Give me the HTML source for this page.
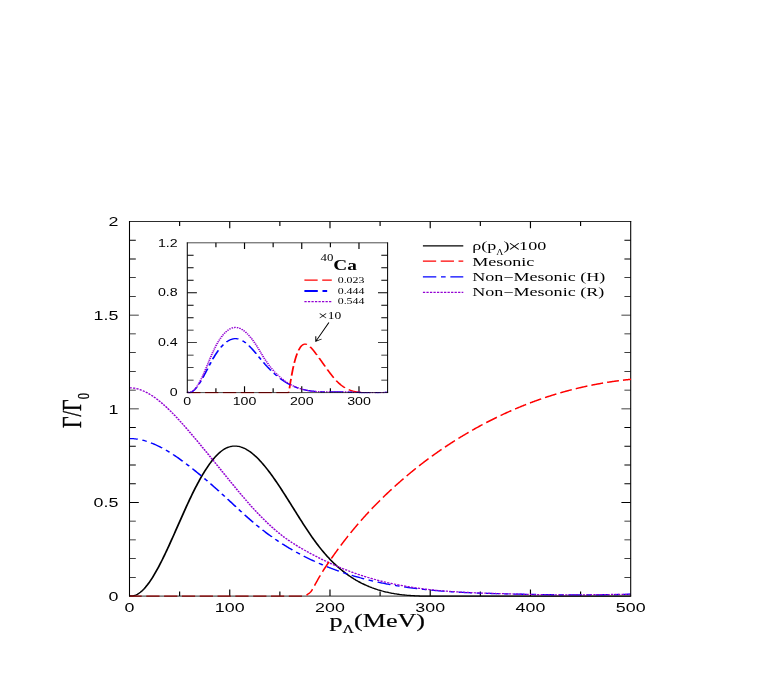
<!DOCTYPE html>
<html><head><meta charset="utf-8"><title>plot</title>
<style>html,body{margin:0;padding:0;background:#fff}svg{display:block}text{font-family:"Liberation Serif",serif;fill:#000}.s{font-family:"Liberation Sans",sans-serif}</style></head><body>
<svg width="761" height="692" viewBox="0 0 761 692">
<rect width="761" height="692" fill="#fff"/>
<defs><clipPath id="cm"><rect x="93.12" y="220.5" width="364.64" height="376.6"/></clipPath>
<clipPath id="ci"><rect x="135.36" y="241.8" width="145.87" height="151.8"/></clipPath></defs>
<g transform="scale(1.38 1)" opacity="0.999">
<path d="M93.84,577.37 h4.57 M457.03,577.37 h-4.57 M93.84,558.64 h4.57 M457.03,558.64 h-4.57 M93.84,539.91 h4.57 M457.03,539.91 h-4.57 M93.84,521.18 h4.57 M457.03,521.18 h-4.57 M93.84,502.45 h6.74 M457.03,502.45 h-6.74 M93.84,483.72 h4.57 M457.03,483.72 h-4.57 M93.84,464.99 h4.57 M457.03,464.99 h-4.57 M93.84,446.26 h4.57 M457.03,446.26 h-4.57 M93.84,427.53 h4.57 M457.03,427.53 h-4.57 M93.84,408.8 h6.74 M457.03,408.8 h-6.74 M93.84,390.07 h4.57 M457.03,390.07 h-4.57 M93.84,371.34 h4.57 M457.03,371.34 h-4.57 M93.84,352.61 h4.57 M457.03,352.61 h-4.57 M93.84,333.88 h4.57 M457.03,333.88 h-4.57 M93.84,315.15 h6.74 M457.03,315.15 h-6.74 M93.84,296.42 h4.57 M457.03,296.42 h-4.57 M93.84,277.69 h4.57 M457.03,277.69 h-4.57 M93.84,258.96 h4.57 M457.03,258.96 h-4.57 M93.84,240.23 h4.57 M457.03,240.23 h-4.57 M130.16,596.1 v-4.6 M130.16,221.5 v4.6 M166.48,596.1 v-6.7 M166.48,221.5 v6.7 M202.8,596.1 v-4.6 M202.8,221.5 v4.6 M239.12,596.1 v-6.7 M239.12,221.5 v6.7 M275.43,596.1 v-4.6 M275.43,221.5 v4.6 M311.75,596.1 v-6.7 M311.75,221.5 v6.7 M348.07,596.1 v-4.6 M348.07,221.5 v4.6 M384.39,596.1 v-6.7 M384.39,221.5 v6.7 M420.71,596.1 v-4.6 M420.71,221.5 v4.6" stroke="#000" stroke-width="0.85" fill="none"/>
<path d="M135.72,380.12 h4.57 M280.87,380.12 h-4.57 M135.72,367.63 h4.57 M280.87,367.63 h-4.57 M135.72,355.15 h4.57 M280.87,355.15 h-4.57 M135.72,342.67 h6.96 M280.87,342.67 h-6.96 M135.72,330.18 h4.57 M280.87,330.18 h-4.57 M135.72,317.7 h4.57 M280.87,317.7 h-4.57 M135.72,305.22 h4.57 M280.87,305.22 h-4.57 M135.72,292.73 h6.96 M280.87,292.73 h-6.96 M135.72,280.25 h4.57 M280.87,280.25 h-4.57 M135.72,267.77 h4.57 M280.87,267.77 h-4.57 M135.72,255.28 h4.57 M280.87,255.28 h-4.57 M156.46,392.6 v-4.4 M156.46,242.8 v4.4 M177.19,392.6 v-6.3 M177.19,242.8 v6.3 M197.93,392.6 v-4.4 M197.93,242.8 v4.4 M218.66,392.6 v-6.3 M218.66,242.8 v6.3 M239.4,392.6 v-4.4 M239.4,242.8 v4.4 M260.13,392.6 v-6.3 M260.13,242.8 v6.3" stroke="#000" stroke-width="0.85" fill="none"/>
<g clip-path="url(#cm)" fill="none" stroke-width="1.3" stroke-linejoin="round">
<path d="M93.84,595.75 L94.57,595.89 L95.29,595.93 L96.02,595.87 L96.75,595.71 L97.47,595.46 L98.2,595.12 L98.93,594.69 L99.65,594.18 L100.38,593.57 L101.1,592.89 L101.83,592.12 L102.56,591.28 L103.28,590.36 L104.01,589.36 L104.74,588.29 L105.46,587.16 L106.19,585.95 L106.92,584.68 L107.64,583.34 L108.37,581.94 L109.09,580.49 L109.82,578.97 L110.55,577.4 L111.27,575.77 L112,574.1 L112.73,572.37 L113.45,570.6 L114.18,568.79 L114.91,566.93 L115.63,565.03 L116.36,563.09 L117.08,561.11 L117.81,559.1 L118.54,557.06 L119.26,554.99 L119.99,552.89 L120.72,550.76 L121.44,548.61 L122.17,546.44 L122.9,544.25 L123.62,542.04 L124.35,539.82 L125.07,537.58 L125.8,535.33 L126.53,533.08 L127.25,530.81 L127.98,528.54 L128.71,526.27 L129.43,524 L130.16,521.73 L130.89,519.46 L131.61,517.2 L132.34,514.95 L133.06,512.71 L133.79,510.48 L134.52,508.26 L135.24,506.06 L135.97,503.88 L136.7,501.72 L137.42,499.58 L138.15,497.47 L138.88,495.38 L139.6,493.32 L140.33,491.3 L141.06,489.3 L141.78,487.34 L142.51,485.41 L143.23,483.51 L143.96,481.65 L144.69,479.83 L145.41,478.04 L146.14,476.29 L146.87,474.59 L147.59,472.92 L148.32,471.29 L149.05,469.7 L149.77,468.16 L150.5,466.66 L151.22,465.21 L151.95,463.8 L152.68,462.44 L153.4,461.13 L154.13,459.87 L154.86,458.65 L155.58,457.49 L156.31,456.38 L157.04,455.32 L157.76,454.31 L158.49,453.36 L159.21,452.47 L159.94,451.63 L160.67,450.85 L161.39,450.13 L162.12,449.46 L162.85,448.86 L163.57,448.32 L164.3,447.84 L165.03,447.41 L165.75,447.05 L166.48,446.75 L167.2,446.5 L167.93,446.31 L168.66,446.17 L169.38,446.09 L170.11,446.06 L170.84,446.09 L171.56,446.17 L172.29,446.3 L173.02,446.48 L173.74,446.71 L174.47,446.99 L175.19,447.32 L175.92,447.69 L176.65,448.11 L177.37,448.58 L178.1,449.09 L178.83,449.65 L179.55,450.25 L180.28,450.89 L181.01,451.58 L181.73,452.3 L182.46,453.07 L183.18,453.87 L183.91,454.71 L184.64,455.59 L185.36,456.51 L186.09,457.46 L186.82,458.45 L187.54,459.47 L188.27,460.53 L189,461.62 L189.72,462.73 L190.45,463.88 L191.18,465.06 L191.9,466.26 L192.63,467.5 L193.35,468.75 L194.08,470.04 L194.81,471.35 L195.53,472.68 L196.26,474.03 L196.99,475.41 L197.71,476.8 L198.44,478.22 L199.17,479.65 L199.89,481.1 L200.62,482.57 L201.34,484.05 L202.07,485.55 L202.8,487.06 L203.52,488.59 L204.25,490.12 L204.98,491.67 L205.7,493.23 L206.43,494.79 L207.16,496.37 L207.88,497.95 L208.61,499.53 L209.33,501.13 L210.06,502.72 L210.79,504.32 L211.51,505.92 L212.24,507.53 L212.97,509.13 L213.69,510.73 L214.42,512.33 L215.15,513.93 L215.87,515.52 L216.6,517.11 L217.32,518.7 L218.05,520.28 L218.78,521.85 L219.5,523.41 L220.23,524.96 L220.96,526.5 L221.68,528.03 L222.41,529.55 L223.14,531.06 L223.86,532.55 L224.59,534.03 L225.31,535.49 L226.04,536.93 L226.77,538.35 L227.49,539.76 L228.22,541.15 L228.95,542.51 L229.67,543.85 L230.4,545.17 L231.13,546.47 L231.85,547.75 L232.58,549 L233.3,550.23 L234.03,551.43 L234.76,552.62 L235.48,553.78 L236.21,554.92 L236.94,556.04 L237.66,557.14 L238.39,558.22 L239.12,559.27 L239.84,560.31 L240.57,561.33 L241.3,562.32 L242.02,563.3 L242.75,564.25 L243.47,565.19 L244.2,566.11 L244.93,567.01 L245.65,567.89 L246.38,568.75 L247.11,569.59 L247.83,570.41 L248.56,571.22 L249.29,572.01 L250.01,572.78 L250.74,573.53 L251.46,574.27 L252.19,574.99 L252.92,575.69 L253.64,576.38 L254.37,577.05 L255.1,577.7 L255.82,578.34 L256.55,578.97 L257.28,579.57 L258,580.17 L258.73,580.74 L259.45,581.31 L260.18,581.86 L260.91,582.39 L261.63,582.91 L262.36,583.42 L263.09,583.91 L263.81,584.39 L264.54,584.86 L265.27,585.31 L265.99,585.75 L266.72,586.18 L267.44,586.6 L268.17,587 L268.9,587.39 L269.62,587.78 L270.35,588.14 L271.08,588.5 L271.8,588.85 L272.53,589.19 L273.26,589.51 L273.98,589.83 L274.71,590.13 L275.43,590.43 L276.16,590.72 L276.89,590.99 L277.61,591.26 L278.34,591.52 L279.07,591.77 L279.79,592.01 L280.52,592.24 L281.25,592.46 L281.97,592.68 L282.7,592.88 L283.42,593.08 L284.15,593.27 L284.88,593.45 L285.6,593.63 L286.33,593.8 L287.06,593.96 L287.78,594.11 L288.51,594.26 L289.24,594.4 L289.96,594.53 L290.69,594.65 L291.42,594.77 L292.14,594.89 L292.87,595 L293.59,595.1 L294.32,595.19 L295.05,595.28 L295.77,595.37 L296.5,595.45 L297.23,595.52 L297.95,595.59 L298.68,595.66 L299.41,595.72 L300.13,595.77 L300.86,595.83 L301.58,595.87 L302.31,595.92 L303.04,595.96 L303.76,595.99 L304.49,596.03 L305.22,596.05 L305.94,596.08 L306.67,596.1 L307.4,596.1 L308.12,596.1 L308.85,596.1 L309.57,596.1 L310.3,596.1 L311.03,596.1 L311.75,596.1 L312.48,596.1 L313.21,596.1 L313.93,596.1 L314.66,596.1 L315.39,596.1 L316.11,596.1 L316.84,596.1 L317.56,596.1 L318.29,596.1 L319.02,596.1 L319.74,596.1 L320.47,596.1 L321.2,596.1 L321.92,596.1 L322.65,596.1 L323.38,596.1 L324.1,596.1 L324.83,596.1 L325.55,596.1 L326.28,596.1 L327.01,596.1 L327.73,596.1 L328.46,596.1 L329.19,596.1 L329.91,596.1 L330.64,596.1 L331.37,596.1 L332.09,596.1 L332.82,596.1 L333.54,596.1 L334.27,596.1 L335,596.1 L335.72,596.1 L336.45,596.1 L337.18,596.1 L337.9,596.1 L338.63,596.09 L339.36,596.09 L340.08,596.09 L340.81,596.09 L341.54,596.09 L342.26,596.09 L342.99,596.09 L343.71,596.09 L344.44,596.09 L345.17,596.09 L345.89,596.08 L346.62,596.08 L347.35,596.08 L348.07,596.08 L348.8,596.08 L349.53,596.08 L350.25,596.08 L350.98,596.08 L351.7,596.08 L352.43,596.08 L353.16,596.08 L353.88,596.08 L354.61,596.08 L355.34,596.08 L356.06,596.08 L356.79,596.08 L357.52,596.08 L358.24,596.08 L358.97,596.09 L359.69,596.09 L360.42,596.09 L361.15,596.09 L361.87,596.09 L362.6,596.09 L363.33,596.09 L364.05,596.09 L364.78,596.09 L365.51,596.09 L366.23,596.09 L366.96,596.09 L367.68,596.09 L368.41,596.09 L369.14,596.09 L369.86,596.09 L370.59,596.09 L371.32,596.09 L372.04,596.09 L372.77,596.09 L373.5,596.09 L374.22,596.09 L374.95,596.09 L375.67,596.09 L376.4,596.1 L377.13,596.1 L377.85,596.1 L378.58,596.1 L379.31,596.1 L380.03,596.1 L380.76,596.1 L381.49,596.1 L382.21,596.1 L382.94,596.1 L383.66,596.1 L384.39,596.1 L385.12,596.1 L385.84,596.1 L386.57,596.1 L387.3,596.1 L388.02,596.1 L388.75,596.1 L389.48,596.1 L390.2,596.1 L390.93,596.1 L391.66,596.1 L392.38,596.1 L393.11,596.1 L393.83,596.1 L394.56,596.1 L395.29,596.1 L396.01,596.1 L396.74,596.1 L397.47,596.1 L398.19,596.1 L398.92,596.1 L399.65,596.1 L400.37,596.1 L401.1,596.1 L401.82,596.1 L402.55,596.1 L403.28,596.1 L404,596.1 L404.73,596.1 L405.46,596.1 L406.18,596.1 L406.91,596.1 L407.64,596.1 L408.36,596.1 L409.09,596.1 L409.81,596.1 L410.54,596.1 L411.27,596.1 L411.99,596.1 L412.72,596.1 L413.45,596.1 L414.17,596.1 L414.9,596.1 L415.63,596.1 L416.35,596.1 L417.08,596.1 L417.8,596.1 L418.53,596.1 L419.26,596.1 L419.98,596.1 L420.71,596.1 L421.44,596.1 L422.16,596.1 L422.89,596.1 L423.62,596.1 L424.34,596.1 L425.07,596.1 L425.79,596.1 L426.52,596.1 L427.25,596.1 L427.97,596.1 L428.7,596.1 L429.43,596.1 L430.15,596.1 L430.88,596.1 L431.61,596.1 L432.33,596.1 L433.06,596.1 L433.78,596.1 L434.51,596.1 L435.24,596.1 L435.96,596.1 L436.69,596.1 L437.42,596.1 L438.14,596.1 L438.87,596.1 L439.6,596.1 L440.32,596.1 L441.05,596.1 L441.78,596.1 L442.5,596.1 L443.23,596.1 L443.95,596.1 L444.68,596.1 L445.41,596.1 L446.13,596.1 L446.86,596.1 L447.59,596.1 L448.31,596.1 L449.04,596.1 L449.77,596.1 L450.49,596.1 L451.22,596.1 L451.94,596.1 L452.67,596.1 L453.4,596.1 L454.12,596.1 L454.85,596.1 L455.58,596.1 L456.3,596.1 L457.03,596.1" stroke="#000"/>
<path d="M93.84,596.1 H221.32" stroke="#ff0000" stroke-dasharray="9.6 3.31" stroke-dashoffset="0.76"/>
<path d="M93.84,438.55 L94.57,438.56 L95.29,438.59 L96.02,438.64 L96.75,438.71 L97.47,438.8 L98.2,438.91 L98.93,439.04 L99.65,439.18 L100.38,439.35 L101.1,439.53 L101.83,439.74 L102.56,439.96 L103.28,440.19 L104.01,440.45 L104.74,440.72 L105.46,441.01 L106.19,441.31 L106.92,441.63 L107.64,441.97 L108.37,442.32 L109.09,442.69 L109.82,443.08 L110.55,443.47 L111.27,443.89 L112,444.32 L112.73,444.76 L113.45,445.21 L114.18,445.68 L114.91,446.17 L115.63,446.66 L116.36,447.17 L117.08,447.7 L117.81,448.23 L118.54,448.78 L119.26,449.34 L119.99,449.91 L120.72,450.49 L121.44,451.08 L122.17,451.69 L122.9,452.3 L123.62,452.93 L124.35,453.57 L125.07,454.21 L125.8,454.87 L126.53,455.53 L127.25,456.21 L127.98,456.89 L128.71,457.58 L129.43,458.28 L130.16,458.99 L130.89,459.71 L131.61,460.43 L132.34,461.17 L133.06,461.91 L133.79,462.65 L134.52,463.41 L135.24,464.17 L135.97,464.93 L136.7,465.7 L137.42,466.48 L138.15,467.27 L138.88,468.05 L139.6,468.85 L140.33,469.65 L141.06,470.45 L141.78,471.26 L142.51,472.07 L143.23,472.89 L143.96,473.71 L144.69,474.53 L145.41,475.37 L146.14,476.2 L146.87,477.04 L147.59,477.88 L148.32,478.73 L149.05,479.58 L149.77,480.44 L150.5,481.3 L151.22,482.16 L151.95,483.03 L152.68,483.9 L153.4,484.77 L154.13,485.65 L154.86,486.54 L155.58,487.42 L156.31,488.31 L157.04,489.2 L157.76,490.1 L158.49,491 L159.21,491.9 L159.94,492.81 L160.67,493.72 L161.39,494.63 L162.12,495.54 L162.85,496.46 L163.57,497.38 L164.3,498.3 L165.03,499.23 L165.75,500.16 L166.48,501.08 L167.2,502.01 L167.93,502.94 L168.66,503.87 L169.38,504.8 L170.11,505.73 L170.84,506.66 L171.56,507.59 L172.29,508.52 L173.02,509.44 L173.74,510.36 L174.47,511.28 L175.19,512.2 L175.92,513.11 L176.65,514.02 L177.37,514.93 L178.1,515.83 L178.83,516.72 L179.55,517.61 L180.28,518.5 L181.01,519.38 L181.73,520.25 L182.46,521.12 L183.18,521.98 L183.91,522.83 L184.64,523.67 L185.36,524.51 L186.09,525.34 L186.82,526.16 L187.54,526.97 L188.27,527.77 L189,528.57 L189.72,529.36 L190.45,530.14 L191.18,530.91 L191.9,531.68 L192.63,532.44 L193.35,533.19 L194.08,533.93 L194.81,534.67 L195.53,535.4 L196.26,536.12 L196.99,536.83 L197.71,537.54 L198.44,538.24 L199.17,538.93 L199.89,539.62 L200.62,540.3 L201.34,540.97 L202.07,541.63 L202.8,542.29 L203.52,542.94 L204.25,543.59 L204.98,544.23 L205.7,544.86 L206.43,545.49 L207.16,546.11 L207.88,546.72 L208.61,547.32 L209.33,547.92 L210.06,548.52 L210.79,549.11 L211.51,549.69 L212.24,550.26 L212.97,550.83 L213.69,551.4 L214.42,551.96 L215.15,552.51 L215.87,553.06 L216.6,553.6 L217.32,554.13 L218.05,554.66 L218.78,555.19 L219.5,555.71 L220.23,556.22 L220.96,556.73 L221.68,557.23 L222.41,557.73 L223.14,558.22 L223.86,558.71 L224.59,559.19 L225.31,559.67 L226.04,560.14 L226.77,560.61 L227.49,561.07 L228.22,561.53 L228.95,561.98 L229.67,562.43 L230.4,562.87 L231.13,563.31 L231.85,563.75 L232.58,564.18 L233.3,564.6 L234.03,565.02 L234.76,565.44 L235.48,565.85 L236.21,566.26 L236.94,566.67 L237.66,567.06 L238.39,567.46 L239.12,567.85 L239.84,568.24 L240.57,568.62 L241.3,569 L242.02,569.37 L242.75,569.74 L243.47,570.11 L244.2,570.47 L244.93,570.83 L245.65,571.18 L246.38,571.53 L247.11,571.88 L247.83,572.22 L248.56,572.56 L249.29,572.89 L250.01,573.22 L250.74,573.55 L251.46,573.87 L252.19,574.19 L252.92,574.51 L253.64,574.82 L254.37,575.13 L255.1,575.43 L255.82,575.73 L256.55,576.03 L257.28,576.33 L258,576.62 L258.73,576.9 L259.45,577.18 L260.18,577.46 L260.91,577.74 L261.63,578.01 L262.36,578.28 L263.09,578.55 L263.81,578.81 L264.54,579.07 L265.27,579.33 L265.99,579.58 L266.72,579.83 L267.44,580.08 L268.17,580.32 L268.9,580.56 L269.62,580.8 L270.35,581.03 L271.08,581.26 L271.8,581.49 L272.53,581.72 L273.26,581.94 L273.98,582.16 L274.71,582.38 L275.43,582.59 L276.16,582.8 L276.89,583.01 L277.61,583.21 L278.34,583.42 L279.07,583.61 L279.79,583.81 L280.52,584.01 L281.25,584.2 L281.97,584.39 L282.7,584.57 L283.42,584.76 L284.15,584.94 L284.88,585.11 L285.6,585.29 L286.33,585.46 L287.06,585.63 L287.78,585.8 L288.51,585.97 L289.24,586.13 L289.96,586.29 L290.69,586.45 L291.42,586.61 L292.14,586.76 L292.87,586.91 L293.59,587.06 L294.32,587.21 L295.05,587.35 L295.77,587.49 L296.5,587.63 L297.23,587.77 L297.95,587.91 L298.68,588.04 L299.41,588.17 L300.13,588.3 L300.86,588.42 L301.58,588.55 L302.31,588.67 L303.04,588.79 L303.76,588.91 L304.49,589.03 L305.22,589.14 L305.94,589.25 L306.67,589.37 L307.4,589.47 L308.12,589.58 L308.85,589.69 L309.57,589.79 L310.3,589.89 L311.03,589.99 L311.75,590.09 L312.48,590.18 L313.21,590.28 L313.93,590.37 L314.66,590.46 L315.39,590.55 L316.11,590.64 L316.84,590.72 L317.56,590.81 L318.29,590.89 L319.02,590.97 L319.74,591.05 L320.47,591.13 L321.2,591.2 L321.92,591.28 L322.65,591.35 L323.38,591.42 L324.1,591.49 L324.83,591.56 L325.55,591.63 L326.28,591.7 L327.01,591.76 L327.73,591.82 L328.46,591.89 L329.19,591.95 L329.91,592.01 L330.64,592.07 L331.37,592.12 L332.09,592.18 L332.82,592.23 L333.54,592.29 L334.27,592.34 L335,592.39 L335.72,592.44 L336.45,592.49 L337.18,592.54 L337.9,592.59 L338.63,592.63 L339.36,592.68 L340.08,592.72 L340.81,592.77 L341.54,592.81 L342.26,592.85 L342.99,592.89 L343.71,592.93 L344.44,592.97 L345.17,593.01 L345.89,593.05 L346.62,593.08 L347.35,593.12 L348.07,593.15 L348.8,593.19 L349.53,593.22 L350.25,593.26 L350.98,593.29 L351.7,593.32 L352.43,593.35 L353.16,593.38 L353.88,593.41 L354.61,593.44 L355.34,593.47 L356.06,593.5 L356.79,593.53 L357.52,593.56 L358.24,593.58 L358.97,593.61 L359.69,593.64 L360.42,593.66 L361.15,593.69 L361.87,593.72 L362.6,593.74 L363.33,593.77 L364.05,593.79 L364.78,593.82 L365.51,593.84 L366.23,593.86 L366.96,593.89 L367.68,593.91 L368.41,593.94 L369.14,593.96 L369.86,593.98 L370.59,594.01 L371.32,594.03 L372.04,594.05 L372.77,594.07 L373.5,594.1 L374.22,594.12 L374.95,594.14 L375.67,594.16 L376.4,594.18 L377.13,594.21 L377.85,594.23 L378.58,594.25 L379.31,594.27 L380.03,594.29 L380.76,594.31 L381.49,594.33 L382.21,594.35 L382.94,594.37 L383.66,594.39 L384.39,594.41 L385.12,594.42 L385.84,594.44 L386.57,594.46 L387.3,594.48 L388.02,594.5 L388.75,594.51 L389.48,594.53 L390.2,594.55 L390.93,594.56 L391.66,594.58 L392.38,594.59 L393.11,594.61 L393.83,594.62 L394.56,594.64 L395.29,594.65 L396.01,594.67 L396.74,594.68 L397.47,594.69 L398.19,594.71 L398.92,594.72 L399.65,594.73 L400.37,594.74 L401.1,594.75 L401.82,594.76 L402.55,594.78 L403.28,594.79 L404,594.8 L404.73,594.8 L405.46,594.81 L406.18,594.82 L406.91,594.83 L407.64,594.84 L408.36,594.85 L409.09,594.85 L409.81,594.86 L410.54,594.87 L411.27,594.87 L411.99,594.88 L412.72,594.88 L413.45,594.89 L414.17,594.89 L414.9,594.89 L415.63,594.9 L416.35,594.9 L417.08,594.9 L417.8,594.9 L418.53,594.9 L419.26,594.9 L419.98,594.9 L420.71,594.9 L421.44,594.9 L422.16,594.9 L422.89,594.9 L423.62,594.9 L424.34,594.89 L425.07,594.89 L425.79,594.89 L426.52,594.88 L427.25,594.88 L427.97,594.87 L428.7,594.87 L429.43,594.86 L430.15,594.85 L430.88,594.84 L431.61,594.84 L432.33,594.83 L433.06,594.82 L433.78,594.81 L434.51,594.8 L435.24,594.79 L435.96,594.77 L436.69,594.76 L437.42,594.75 L438.14,594.74 L438.87,594.72 L439.6,594.71 L440.32,594.69 L441.05,594.68 L441.78,594.66 L442.5,594.64 L443.23,594.62 L443.95,594.61 L444.68,594.59 L445.41,594.57 L446.13,594.55 L446.86,594.53 L447.59,594.5 L448.31,594.48 L449.04,594.46 L449.77,594.44 L450.49,594.41 L451.22,594.39 L451.94,594.36 L452.67,594.33 L453.4,594.31 L454.12,594.28 L454.85,594.25 L455.58,594.22 L456.3,594.19 L457.03,594.16" stroke="#0000ff" stroke-dasharray="9.7 3.4 3.4 3.4" stroke-dashoffset="3.6"/>
<path d="M93.84,387.78 L94.57,387.8 L95.29,387.86 L96.02,387.95 L96.75,388.07 L97.47,388.23 L98.2,388.41 L98.93,388.63 L99.65,388.88 L100.38,389.17 L101.1,389.48 L101.83,389.82 L102.56,390.19 L103.28,390.59 L104.01,391.02 L104.74,391.47 L105.46,391.95 L106.19,392.46 L106.92,392.99 L107.64,393.55 L108.37,394.14 L109.09,394.75 L109.82,395.38 L110.55,396.04 L111.27,396.71 L112,397.42 L112.73,398.14 L113.45,398.88 L114.18,399.65 L114.91,400.43 L115.63,401.24 L116.36,402.06 L117.08,402.9 L117.81,403.76 L118.54,404.64 L119.26,405.53 L119.99,406.44 L120.72,407.37 L121.44,408.31 L122.17,409.27 L122.9,410.24 L123.62,411.23 L124.35,412.23 L125.07,413.25 L125.8,414.27 L126.53,415.31 L127.25,416.36 L127.98,417.42 L128.71,418.5 L129.43,419.58 L130.16,420.67 L130.89,421.78 L131.61,422.89 L132.34,424.01 L133.06,425.14 L133.79,426.27 L134.52,427.42 L135.24,428.57 L135.97,429.72 L136.7,430.89 L137.42,432.05 L138.15,433.23 L138.88,434.4 L139.6,435.58 L140.33,436.77 L141.06,437.95 L141.78,439.15 L142.51,440.34 L143.23,441.54 L143.96,442.74 L144.69,443.94 L145.41,445.15 L146.14,446.36 L146.87,447.57 L147.59,448.78 L148.32,450 L149.05,451.21 L149.77,452.43 L150.5,453.66 L151.22,454.88 L151.95,456.1 L152.68,457.33 L153.4,458.56 L154.13,459.79 L154.86,461.02 L155.58,462.25 L156.31,463.48 L157.04,464.72 L157.76,465.95 L158.49,467.19 L159.21,468.42 L159.94,469.66 L160.67,470.89 L161.39,472.13 L162.12,473.36 L162.85,474.6 L163.57,475.83 L164.3,477.07 L165.03,478.3 L165.75,479.53 L166.48,480.76 L167.2,481.99 L167.93,483.22 L168.66,484.44 L169.38,485.66 L170.11,486.88 L170.84,488.1 L171.56,489.31 L172.29,490.52 L173.02,491.72 L173.74,492.92 L174.47,494.11 L175.19,495.3 L175.92,496.48 L176.65,497.65 L177.37,498.82 L178.1,499.98 L178.83,501.14 L179.55,502.29 L180.28,503.43 L181.01,504.56 L181.73,505.69 L182.46,506.8 L183.18,507.91 L183.91,509.01 L184.64,510.1 L185.36,511.18 L186.09,512.25 L186.82,513.31 L187.54,514.35 L188.27,515.39 L189,516.42 L189.72,517.44 L190.45,518.45 L191.18,519.44 L191.9,520.43 L192.63,521.4 L193.35,522.37 L194.08,523.32 L194.81,524.26 L195.53,525.19 L196.26,526.11 L196.99,527.02 L197.71,527.91 L198.44,528.8 L199.17,529.67 L199.89,530.53 L200.62,531.38 L201.34,532.21 L202.07,533.03 L202.8,533.84 L203.52,534.64 L204.25,535.43 L204.98,536.2 L205.7,536.96 L206.43,537.7 L207.16,538.43 L207.88,539.15 L208.61,539.86 L209.33,540.55 L210.06,541.23 L210.79,541.9 L211.51,542.56 L212.24,543.2 L212.97,543.84 L213.69,544.47 L214.42,545.09 L215.15,545.7 L215.87,546.3 L216.6,546.9 L217.32,547.49 L218.05,548.07 L218.78,548.65 L219.5,549.23 L220.23,549.8 L220.96,550.37 L221.68,550.93 L222.41,551.49 L223.14,552.04 L223.86,552.6 L224.59,553.14 L225.31,553.69 L226.04,554.22 L226.77,554.76 L227.49,555.29 L228.22,555.81 L228.95,556.34 L229.67,556.85 L230.4,557.36 L231.13,557.87 L231.85,558.38 L232.58,558.87 L233.3,559.37 L234.03,559.86 L234.76,560.34 L235.48,560.82 L236.21,561.3 L236.94,561.77 L237.66,562.24 L238.39,562.7 L239.12,563.16 L239.84,563.62 L240.57,564.07 L241.3,564.51 L242.02,564.95 L242.75,565.39 L243.47,565.82 L244.2,566.25 L244.93,566.68 L245.65,567.1 L246.38,567.51 L247.11,567.92 L247.83,568.33 L248.56,568.73 L249.29,569.13 L250.01,569.53 L250.74,569.92 L251.46,570.3 L252.19,570.69 L252.92,571.07 L253.64,571.44 L254.37,571.81 L255.1,572.18 L255.82,572.54 L256.55,572.89 L257.28,573.25 L258,573.6 L258.73,573.94 L259.45,574.29 L260.18,574.62 L260.91,574.96 L261.63,575.29 L262.36,575.61 L263.09,575.94 L263.81,576.25 L264.54,576.57 L265.27,576.88 L265.99,577.19 L266.72,577.49 L267.44,577.79 L268.17,578.08 L268.9,578.37 L269.62,578.66 L270.35,578.94 L271.08,579.22 L271.8,579.5 L272.53,579.77 L273.26,580.04 L273.98,580.31 L274.71,580.57 L275.43,580.82 L276.16,581.08 L276.89,581.33 L277.61,581.58 L278.34,581.82 L279.07,582.06 L279.79,582.29 L280.52,582.53 L281.25,582.76 L281.97,582.98 L282.7,583.2 L283.42,583.42 L284.15,583.64 L284.88,583.85 L285.6,584.06 L286.33,584.26 L287.06,584.47 L287.78,584.67 L288.51,584.86 L289.24,585.05 L289.96,585.24 L290.69,585.43 L291.42,585.61 L292.14,585.8 L292.87,585.97 L293.59,586.15 L294.32,586.32 L295.05,586.49 L295.77,586.65 L296.5,586.82 L297.23,586.98 L297.95,587.14 L298.68,587.29 L299.41,587.44 L300.13,587.59 L300.86,587.74 L301.58,587.88 L302.31,588.02 L303.04,588.16 L303.76,588.3 L304.49,588.43 L305.22,588.56 L305.94,588.69 L306.67,588.82 L307.4,588.94 L308.12,589.07 L308.85,589.19 L309.57,589.3 L310.3,589.42 L311.03,589.53 L311.75,589.64 L312.48,589.75 L313.21,589.85 L313.93,589.96 L314.66,590.06 L315.39,590.16 L316.11,590.26 L316.84,590.35 L317.56,590.45 L318.29,590.54 L319.02,590.63 L319.74,590.72 L320.47,590.8 L321.2,590.89 L321.92,590.97 L322.65,591.05 L323.38,591.13 L324.1,591.21 L324.83,591.28 L325.55,591.36 L326.28,591.43 L327.01,591.5 L327.73,591.57 L328.46,591.64 L329.19,591.7 L329.91,591.77 L330.64,591.83 L331.37,591.89 L332.09,591.95 L332.82,592.01 L333.54,592.07 L334.27,592.12 L335,592.18 L335.72,592.23 L336.45,592.29 L337.18,592.34 L337.9,592.39 L338.63,592.44 L339.36,592.49 L340.08,592.53 L340.81,592.58 L341.54,592.62 L342.26,592.67 L342.99,592.71 L343.71,592.75 L344.44,592.79 L345.17,592.83 L345.89,592.87 L346.62,592.91 L347.35,592.95 L348.07,592.99 L348.8,593.02 L349.53,593.06 L350.25,593.1 L350.98,593.13 L351.7,593.16 L352.43,593.2 L353.16,593.23 L353.88,593.26 L354.61,593.3 L355.34,593.33 L356.06,593.36 L356.79,593.39 L357.52,593.42 L358.24,593.45 L358.97,593.48 L359.69,593.51 L360.42,593.54 L361.15,593.57 L361.87,593.6 L362.6,593.63 L363.33,593.65 L364.05,593.68 L364.78,593.71 L365.51,593.74 L366.23,593.77 L366.96,593.8 L367.68,593.83 L368.41,593.85 L369.14,593.88 L369.86,593.91 L370.59,593.94 L371.32,593.97 L372.04,594 L372.77,594.02 L373.5,594.05 L374.22,594.08 L374.95,594.11 L375.67,594.14 L376.4,594.16 L377.13,594.19 L377.85,594.22 L378.58,594.25 L379.31,594.27 L380.03,594.3 L380.76,594.32 L381.49,594.35 L382.21,594.38 L382.94,594.4 L383.66,594.43 L384.39,594.45 L385.12,594.48 L385.84,594.5 L386.57,594.52 L387.3,594.55 L388.02,594.57 L388.75,594.59 L389.48,594.61 L390.2,594.63 L390.93,594.65 L391.66,594.67 L392.38,594.69 L393.11,594.71 L393.83,594.73 L394.56,594.75 L395.29,594.77 L396.01,594.78 L396.74,594.8 L397.47,594.81 L398.19,594.83 L398.92,594.84 L399.65,594.85 L400.37,594.87 L401.1,594.88 L401.82,594.89 L402.55,594.9 L403.28,594.91 L404,594.92 L404.73,594.93 L405.46,594.93 L406.18,594.94 L406.91,594.95 L407.64,594.95 L408.36,594.95 L409.09,594.96 L409.81,594.96 L410.54,594.96 L411.27,594.96 L411.99,594.96 L412.72,594.96 L413.45,594.95 L414.17,594.95 L414.9,594.95 L415.63,594.94 L416.35,594.93 L417.08,594.93 L417.8,594.92 L418.53,594.91 L419.26,594.9 L419.98,594.89 L420.71,594.88 L421.44,594.87 L422.16,594.86 L422.89,594.85 L423.62,594.84 L424.34,594.82 L425.07,594.81 L425.79,594.8 L426.52,594.78 L427.25,594.77 L427.97,594.76 L428.7,594.74 L429.43,594.73 L430.15,594.72 L430.88,594.7 L431.61,594.69 L432.33,594.67 L433.06,594.66 L433.78,594.65 L434.51,594.63 L435.24,594.62 L435.96,594.61 L436.69,594.59 L437.42,594.58 L438.14,594.57 L438.87,594.56 L439.6,594.54 L440.32,594.53 L441.05,594.52 L441.78,594.51 L442.5,594.5 L443.23,594.49 L443.95,594.48 L444.68,594.48 L445.41,594.47 L446.13,594.46 L446.86,594.46 L447.59,594.45 L448.31,594.45 L449.04,594.45 L449.77,594.44 L450.49,594.44 L451.22,594.44 L451.94,594.44 L452.67,594.45 L453.4,594.45 L454.12,594.45 L454.85,594.46 L455.58,594.47 L456.3,594.47 L457.03,594.48" stroke="#9400d3" stroke-width="1.25" stroke-dasharray="1.65 0.9"/>
</g>
<g clip-path="url(#ci)" fill="none" stroke-width="1.3" stroke-linejoin="round">
<path d="M135.72,392.6 L135.93,392.6 L136.14,392.6 L136.35,392.6 L136.55,392.6 L136.76,392.6 L136.97,392.6 L137.18,392.6 L137.38,392.6 L137.59,392.6 L137.8,392.6 L138.01,392.6 L138.21,392.6 L138.42,392.6 L138.63,392.6 L138.83,392.6 L139.04,392.6 L139.25,392.6 L139.46,392.6 L139.66,392.6 L139.87,392.6 L140.08,392.6 L140.29,392.6 L140.49,392.6 L140.7,392.6 L140.91,392.6 L141.12,392.6 L141.32,392.6 L141.53,392.6 L141.74,392.6 L141.95,392.6 L142.15,392.6 L142.36,392.6 L142.57,392.6 L142.77,392.6 L142.98,392.6 L143.19,392.6 L143.4,392.6 L143.6,392.6 L143.81,392.6 L144.02,392.6 L144.23,392.6 L144.43,392.6 L144.64,392.6 L144.85,392.6 L145.06,392.6 L145.26,392.6 L145.47,392.6 L145.68,392.6 L145.88,392.6 L146.09,392.6 L146.3,392.6 L146.51,392.6 L146.71,392.6 L146.92,392.6 L147.13,392.6 L147.34,392.6 L147.54,392.6 L147.75,392.6 L147.96,392.6 L148.17,392.6 L148.37,392.6 L148.58,392.6 L148.79,392.6 L149,392.6 L149.2,392.6 L149.41,392.6 L149.62,392.6 L149.82,392.6 L150.03,392.6 L150.24,392.6 L150.45,392.6 L150.65,392.6 L150.86,392.6 L151.07,392.6 L151.28,392.6 L151.48,392.6 L151.69,392.6 L151.9,392.6 L152.11,392.6 L152.31,392.6 L152.52,392.6 L152.73,392.6 L152.93,392.6 L153.14,392.6 L153.35,392.6 L153.56,392.6 L153.76,392.6 L153.97,392.6 L154.18,392.6 L154.39,392.6 L154.59,392.6 L154.8,392.6 L155.01,392.6 L155.22,392.6 L155.42,392.6 L155.63,392.6 L155.84,392.6 L156.04,392.6 L156.25,392.6 L156.46,392.6 L156.67,392.6 L156.87,392.6 L157.08,392.6 L157.29,392.6 L157.5,392.6 L157.7,392.6 L157.91,392.6 L158.12,392.6 L158.33,392.6 L158.53,392.6 L158.74,392.6 L158.95,392.6 L159.16,392.6 L159.36,392.6 L159.57,392.6 L159.78,392.6 L159.98,392.6 L160.19,392.6 L160.4,392.6 L160.61,392.6 L160.81,392.6 L161.02,392.6 L161.23,392.6 L161.44,392.6 L161.64,392.6 L161.85,392.6 L162.06,392.6 L162.27,392.6 L162.47,392.6 L162.68,392.6 L162.89,392.6 L163.09,392.6 L163.3,392.6 L163.51,392.6 L163.72,392.6 L163.92,392.6 L164.13,392.6 L164.34,392.6 L164.55,392.6 L164.75,392.6 L164.96,392.6 L165.17,392.6 L165.38,392.6 L165.58,392.6 L165.79,392.6 L166,392.6 L166.21,392.6 L166.41,392.6 L166.62,392.6 L166.83,392.6 L167.03,392.6 L167.24,392.6 L167.45,392.6 L167.66,392.6 L167.86,392.6 L168.07,392.6 L168.28,392.6 L168.49,392.6 L168.69,392.6 L168.9,392.6 L169.11,392.6 L169.32,392.6 L169.52,392.6 L169.73,392.6 L169.94,392.6 L170.14,392.6 L170.35,392.6 L170.56,392.6 L170.77,392.6 L170.97,392.6 L171.18,392.6 L171.39,392.6 L171.6,392.6 L171.8,392.6 L172.01,392.6 L172.22,392.6 L172.43,392.6 L172.63,392.6 L172.84,392.6 L173.05,392.6 L173.25,392.6 L173.46,392.6 L173.67,392.6 L173.88,392.6 L174.08,392.6 L174.29,392.6 L174.5,392.6 L174.71,392.6 L174.91,392.6 L175.12,392.6 L175.33,392.6 L175.54,392.6 L175.74,392.6 L175.95,392.6 L176.16,392.6 L176.37,392.6 L176.57,392.6 L176.78,392.6 L176.99,392.6 L177.19,392.6 L177.4,392.6 L177.61,392.6 L177.82,392.6 L178.02,392.6 L178.23,392.6 L178.44,392.6 L178.65,392.6 L178.85,392.6 L179.06,392.6 L179.27,392.6 L179.48,392.6 L179.68,392.6 L179.89,392.6 L180.1,392.6 L180.3,392.6 L180.51,392.6 L180.72,392.6 L180.93,392.6 L181.13,392.6 L181.34,392.6 L181.55,392.6 L181.76,392.6 L181.96,392.6 L182.17,392.6 L182.38,392.6 L182.59,392.6 L182.79,392.6 L183,392.6 L183.21,392.6 L183.42,392.6 L183.62,392.6 L183.83,392.6 L184.04,392.6 L184.24,392.6 L184.45,392.6 L184.66,392.6 L184.87,392.6 L185.07,392.6 L185.28,392.6 L185.49,392.6 L185.7,392.6 L185.9,392.6 L186.11,392.6 L186.32,392.6 L186.53,392.6 L186.73,392.6 L186.94,392.6 L187.15,392.6 L187.35,392.6 L187.56,392.6 L187.77,392.6 L187.98,392.6 L188.18,392.6 L188.39,392.6 L188.6,392.6 L188.81,392.6 L189.01,392.6 L189.22,392.6 L189.43,392.6 L189.64,392.6 L189.84,392.6 L190.05,392.6 L190.26,392.6 L190.47,392.6 L190.67,392.6 L190.88,392.6 L191.09,392.6 L191.29,392.6 L191.5,392.6 L191.71,392.6 L191.92,392.6 L192.12,392.6 L192.33,392.6 L192.54,392.6 L192.75,392.6 L192.95,392.6 L193.16,392.6 L193.37,392.6 L193.58,392.6 L193.78,392.6 L193.99,392.6 L194.2,392.6 L194.4,392.6 L194.61,392.6 L194.82,392.6 L195.03,392.6 L195.23,392.6 L195.44,392.6 L195.65,392.6 L195.86,392.6 L196.06,392.6 L196.27,392.6 L196.48,392.6 L196.69,392.6 L196.89,392.6 L197.1,392.6 L197.31,392.6 L197.51,392.6 L197.72,392.6 L197.93,392.6 L198.14,392.6 L198.34,392.6 L198.55,392.6 L198.76,392.6 L198.97,392.6 L199.17,392.6 L199.38,392.6 L199.59,392.6 L199.8,392.6 L200,392.6 L200.21,392.6 L200.42,392.6 L200.63,392.6 L200.83,392.6 L201.04,392.6 L201.25,392.6 L201.45,392.6 L201.66,392.6 L201.87,392.6 L202.08,392.6 L202.28,392.6 L202.49,392.6 L202.7,392.6 L202.91,392.6 L203.11,392.6 L203.32,392.6 L203.53,392.6 L203.74,392.6 L203.94,392.6 L204.15,392.6 L204.36,392.6 L204.56,392.6 L204.77,392.6 L204.98,392.6 L205.19,392.6 L205.39,392.6 L205.6,392.6 L205.81,392.6 L206.02,392.6 L206.22,392.6 L206.43,392.6 L206.64,392.6 L206.85,392.6 L207.05,392.6 L207.26,392.6 L207.47,392.6 L207.68,392.6 L207.88,392.6 L208.09,392.6 L208.3,392.6 L208.5,392.6 L208.71,392.6 L208.92,392.6 L209.13,391.96 L209.33,391.1 L209.54,389.93 L209.75,388.42 L209.96,386.67 L210.16,384.81 L210.37,382.93 L210.58,381.15 L210.79,379.56 L210.99,378 L211.2,376.44 L211.41,374.89 L211.61,373.36 L211.82,371.85 L212.03,370.39 L212.24,368.96 L212.44,367.59 L212.65,366.29 L212.86,365.07 L213.07,363.93 L213.27,362.81 L213.48,361.72 L213.69,360.66 L213.9,359.63 L214.1,358.64 L214.31,357.68 L214.52,356.77 L214.72,355.9 L214.93,355.07 L215.14,354.28 L215.35,353.53 L215.55,352.82 L215.76,352.14 L215.97,351.49 L216.18,350.86 L216.38,350.26 L216.59,349.69 L216.8,349.15 L217.01,348.64 L217.21,348.16 L217.42,347.71 L217.63,347.29 L217.84,346.9 L218.04,346.53 L218.25,346.2 L218.46,345.89 L218.66,345.61 L218.87,345.35 L219.08,345.12 L219.29,344.92 L219.49,344.74 L219.7,344.59 L219.91,344.45 L220.12,344.35 L220.32,344.26 L220.53,344.2 L220.74,344.16 L220.95,344.14 L221.15,344.14 L221.36,344.16 L221.57,344.2 L221.77,344.25 L221.98,344.33 L222.19,344.42 L222.4,344.53 L222.6,344.66 L222.81,344.81 L223.02,344.96 L223.23,345.14 L223.43,345.33 L223.64,345.53 L223.85,345.74 L224.06,345.97 L224.26,346.21 L224.47,346.46 L224.68,346.73 L224.89,347 L225.09,347.28 L225.3,347.57 L225.51,347.88 L225.71,348.18 L225.92,348.5 L226.13,348.83 L226.34,349.16 L226.54,349.5 L226.75,349.84 L226.96,350.19 L227.17,350.54 L227.37,350.89 L227.58,351.25 L227.79,351.62 L228,351.98 L228.2,352.35 L228.41,352.72 L228.62,353.09 L228.82,353.47 L229.03,353.84 L229.24,354.22 L229.45,354.6 L229.65,354.99 L229.86,355.37 L230.07,355.76 L230.28,356.15 L230.48,356.54 L230.69,356.93 L230.9,357.32 L231.11,357.72 L231.31,358.11 L231.52,358.51 L231.73,358.91 L231.93,359.31 L232.14,359.71 L232.35,360.11 L232.56,360.51 L232.76,360.91 L232.97,361.31 L233.18,361.72 L233.39,362.12 L233.59,362.52 L233.8,362.93 L234.01,363.33 L234.22,363.74 L234.42,364.14 L234.63,364.54 L234.84,364.95 L235.05,365.35 L235.25,365.75 L235.46,366.15 L235.67,366.55 L235.87,366.95 L236.08,367.35 L236.29,367.75 L236.5,368.15 L236.7,368.55 L236.91,368.94 L237.12,369.34 L237.33,369.73 L237.53,370.12 L237.74,370.51 L237.95,370.9 L238.16,371.28 L238.36,371.67 L238.57,372.05 L238.78,372.43 L238.98,372.81 L239.19,373.19 L239.4,373.56 L239.61,373.93 L239.81,374.3 L240.02,374.67 L240.23,375.03 L240.44,375.39 L240.64,375.75 L240.85,376.11 L241.06,376.46 L241.27,376.81 L241.47,377.15 L241.68,377.5 L241.89,377.83 L242.1,378.17 L242.3,378.5 L242.51,378.83 L242.72,379.16 L242.92,379.48 L243.13,379.8 L243.34,380.11 L243.55,380.42 L243.75,380.72 L243.96,381.02 L244.17,381.32 L244.38,381.61 L244.58,381.9 L244.79,382.18 L245,382.46 L245.21,382.73 L245.41,383 L245.62,383.26 L245.83,383.52 L246.03,383.78 L246.24,384.03 L246.45,384.27 L246.66,384.51 L246.86,384.75 L247.07,384.98 L247.28,385.2 L247.49,385.42 L247.69,385.64 L247.9,385.85 L248.11,386.06 L248.32,386.27 L248.52,386.47 L248.73,386.66 L248.94,386.85 L249.15,387.04 L249.35,387.22 L249.56,387.4 L249.77,387.58 L249.97,387.75 L250.18,387.92 L250.39,388.08 L250.6,388.24 L250.8,388.4 L251.01,388.55 L251.22,388.7 L251.43,388.84 L251.63,388.98 L251.84,389.12 L252.05,389.25 L252.26,389.38 L252.46,389.51 L252.67,389.64 L252.88,389.76 L253.08,389.87 L253.29,389.99 L253.5,390.1 L253.71,390.2 L253.91,390.31 L254.12,390.41 L254.33,390.51 L254.54,390.6 L254.74,390.7 L254.95,390.78 L255.16,390.87 L255.37,390.95 L255.57,391.04 L255.78,391.11 L255.99,391.19 L256.19,391.26 L256.4,391.33 L256.61,391.4 L256.82,391.46 L257.02,391.53 L257.23,391.59 L257.44,391.64 L257.65,391.7 L257.85,391.75 L258.06,391.8 L258.27,391.85 L258.48,391.9 L258.68,391.94 L258.89,391.98 L259.1,392.02 L259.31,392.06 L259.51,392.1 L259.72,392.13 L259.93,392.16 L260.13,392.19 L260.34,392.22 L260.55,392.25 L260.76,392.27 L260.96,392.3 L261.17,392.32 L261.38,392.34 L261.59,392.36 L261.79,392.37" stroke="#ff0000" stroke-dasharray="9.6 3.31"/>
<path d="M135.72,392.37 L135.93,392.46 L136.14,392.54 L136.35,392.6 L136.55,392.6 L136.76,392.6 L136.97,392.6 L137.18,392.6 L137.38,392.6 L137.59,392.58 L137.8,392.52 L138.01,392.44 L138.21,392.35 L138.42,392.24 L138.63,392.11 L138.83,391.98 L139.04,391.82 L139.25,391.65 L139.46,391.47 L139.66,391.27 L139.87,391.06 L140.08,390.84 L140.29,390.6 L140.49,390.35 L140.7,390.09 L140.91,389.82 L141.12,389.53 L141.32,389.23 L141.53,388.93 L141.74,388.6 L141.95,388.27 L142.15,387.93 L142.36,387.58 L142.57,387.22 L142.77,386.84 L142.98,386.46 L143.19,386.07 L143.4,385.67 L143.6,385.26 L143.81,384.84 L144.02,384.42 L144.23,383.98 L144.43,383.54 L144.64,383.09 L144.85,382.63 L145.06,382.17 L145.26,381.7 L145.47,381.23 L145.68,380.74 L145.88,380.26 L146.09,379.76 L146.3,379.26 L146.51,378.76 L146.71,378.25 L146.92,377.74 L147.13,377.22 L147.34,376.7 L147.54,376.18 L147.75,375.65 L147.96,375.12 L148.17,374.58 L148.37,374.05 L148.58,373.51 L148.79,372.97 L149,372.42 L149.2,371.88 L149.41,371.34 L149.62,370.79 L149.82,370.24 L150.03,369.7 L150.24,369.15 L150.45,368.6 L150.65,368.05 L150.86,367.51 L151.07,366.96 L151.28,366.42 L151.48,365.88 L151.69,365.34 L151.9,364.8 L152.11,364.26 L152.31,363.73 L152.52,363.2 L152.73,362.67 L152.93,362.14 L153.14,361.62 L153.35,361.11 L153.56,360.59 L153.76,360.09 L153.97,359.58 L154.18,359.08 L154.39,358.59 L154.59,358.1 L154.8,357.62 L155.01,357.15 L155.22,356.67 L155.42,356.21 L155.63,355.75 L155.84,355.3 L156.04,354.85 L156.25,354.4 L156.46,353.97 L156.67,353.54 L156.87,353.11 L157.08,352.69 L157.29,352.28 L157.5,351.87 L157.7,351.47 L157.91,351.07 L158.12,350.68 L158.33,350.3 L158.53,349.92 L158.74,349.55 L158.95,349.18 L159.16,348.82 L159.36,348.46 L159.57,348.11 L159.78,347.77 L159.98,347.43 L160.19,347.1 L160.4,346.78 L160.61,346.46 L160.81,346.15 L161.02,345.84 L161.23,345.54 L161.44,345.25 L161.64,344.96 L161.85,344.68 L162.06,344.4 L162.27,344.13 L162.47,343.87 L162.68,343.61 L162.89,343.36 L163.09,343.11 L163.3,342.88 L163.51,342.65 L163.72,342.42 L163.92,342.2 L164.13,341.99 L164.34,341.78 L164.55,341.58 L164.75,341.39 L164.96,341.2 L165.17,341.02 L165.38,340.85 L165.58,340.68 L165.79,340.52 L166,340.36 L166.21,340.22 L166.41,340.08 L166.62,339.94 L166.83,339.81 L167.03,339.69 L167.24,339.58 L167.45,339.47 L167.66,339.37 L167.86,339.27 L168.07,339.19 L168.28,339.1 L168.49,339.03 L168.69,338.96 L168.9,338.9 L169.11,338.85 L169.32,338.8 L169.52,338.76 L169.73,338.73 L169.94,338.7 L170.14,338.68 L170.35,338.67 L170.56,338.66 L170.77,338.67 L170.97,338.67 L171.18,338.69 L171.39,338.71 L171.6,338.74 L171.8,338.78 L172.01,338.82 L172.22,338.87 L172.43,338.93 L172.63,338.99 L172.84,339.07 L173.05,339.14 L173.25,339.23 L173.46,339.32 L173.67,339.42 L173.88,339.52 L174.08,339.64 L174.29,339.75 L174.5,339.88 L174.71,340.01 L174.91,340.14 L175.12,340.29 L175.33,340.43 L175.54,340.59 L175.74,340.75 L175.95,340.91 L176.16,341.08 L176.37,341.26 L176.57,341.44 L176.78,341.63 L176.99,341.83 L177.19,342.03 L177.4,342.23 L177.61,342.44 L177.82,342.65 L178.02,342.87 L178.23,343.1 L178.44,343.33 L178.65,343.56 L178.85,343.8 L179.06,344.04 L179.27,344.29 L179.48,344.54 L179.68,344.8 L179.89,345.06 L180.1,345.33 L180.3,345.6 L180.51,345.87 L180.72,346.15 L180.93,346.43 L181.13,346.72 L181.34,347 L181.55,347.3 L181.76,347.6 L181.96,347.9 L182.17,348.2 L182.38,348.51 L182.59,348.82 L182.79,349.13 L183,349.45 L183.21,349.77 L183.42,350.09 L183.62,350.41 L183.83,350.74 L184.04,351.07 L184.24,351.4 L184.45,351.73 L184.66,352.07 L184.87,352.4 L185.07,352.74 L185.28,353.08 L185.49,353.42 L185.7,353.76 L185.9,354.11 L186.11,354.45 L186.32,354.8 L186.53,355.14 L186.73,355.49 L186.94,355.84 L187.15,356.18 L187.35,356.53 L187.56,356.88 L187.77,357.23 L187.98,357.58 L188.18,357.92 L188.39,358.27 L188.6,358.62 L188.81,358.96 L189.01,359.31 L189.22,359.65 L189.43,360 L189.64,360.34 L189.84,360.68 L190.05,361.02 L190.26,361.36 L190.47,361.69 L190.67,362.03 L190.88,362.36 L191.09,362.69 L191.29,363.02 L191.5,363.35 L191.71,363.67 L191.92,363.99 L192.12,364.32 L192.33,364.63 L192.54,364.95 L192.75,365.27 L192.95,365.58 L193.16,365.89 L193.37,366.2 L193.58,366.51 L193.78,366.82 L193.99,367.12 L194.2,367.42 L194.4,367.72 L194.61,368.02 L194.82,368.32 L195.03,368.61 L195.23,368.9 L195.44,369.19 L195.65,369.48 L195.86,369.77 L196.06,370.05 L196.27,370.34 L196.48,370.62 L196.69,370.9 L196.89,371.17 L197.1,371.45 L197.31,371.72 L197.51,371.99 L197.72,372.26 L197.93,372.53 L198.14,372.79 L198.34,373.05 L198.55,373.31 L198.76,373.57 L198.97,373.83 L199.17,374.09 L199.38,374.34 L199.59,374.59 L199.8,374.84 L200,375.09 L200.21,375.33 L200.42,375.57 L200.63,375.81 L200.83,376.05 L201.04,376.29 L201.25,376.52 L201.45,376.76 L201.66,376.99 L201.87,377.22 L202.08,377.44 L202.28,377.67 L202.49,377.89 L202.7,378.11 L202.91,378.33 L203.11,378.55 L203.32,378.76 L203.53,378.98 L203.74,379.19 L203.94,379.4 L204.15,379.6 L204.36,379.81 L204.56,380.01 L204.77,380.21 L204.98,380.41 L205.19,380.6 L205.39,380.8 L205.6,380.99 L205.81,381.18 L206.02,381.37 L206.22,381.55 L206.43,381.74 L206.64,381.92 L206.85,382.1 L207.05,382.28 L207.26,382.45 L207.47,382.63 L207.68,382.8 L207.88,382.97 L208.09,383.13 L208.3,383.3 L208.5,383.46 L208.71,383.62 L208.92,383.78 L209.13,383.94 L209.33,384.09 L209.54,384.25 L209.75,384.4 L209.96,384.55 L210.16,384.69 L210.37,384.84 L210.58,384.98 L210.79,385.12 L210.99,385.26 L211.2,385.4 L211.41,385.53 L211.61,385.67 L211.82,385.8 L212.03,385.93 L212.24,386.06 L212.44,386.18 L212.65,386.31 L212.86,386.43 L213.07,386.55 L213.27,386.67 L213.48,386.78 L213.69,386.9 L213.9,387.01 L214.1,387.12 L214.31,387.23 L214.52,387.34 L214.72,387.45 L214.93,387.55 L215.14,387.66 L215.35,387.76 L215.55,387.86 L215.76,387.96 L215.97,388.05 L216.18,388.15 L216.38,388.24 L216.59,388.33 L216.8,388.42 L217.01,388.51 L217.21,388.6 L217.42,388.68 L217.63,388.77 L217.84,388.85 L218.04,388.93 L218.25,389.01 L218.46,389.09 L218.66,389.17 L218.87,389.24 L219.08,389.32 L219.29,389.39 L219.49,389.46 L219.7,389.53 L219.91,389.6 L220.12,389.67 L220.32,389.73 L220.53,389.8 L220.74,389.86 L220.95,389.92 L221.15,389.98 L221.36,390.04 L221.57,390.1 L221.77,390.16 L221.98,390.21 L222.19,390.27 L222.4,390.32 L222.6,390.37 L222.81,390.42 L223.02,390.47 L223.23,390.52 L223.43,390.57 L223.64,390.62 L223.85,390.66 L224.06,390.71 L224.26,390.75 L224.47,390.79 L224.68,390.83 L224.89,390.87 L225.09,390.91 L225.3,390.95 L225.51,390.99 L225.71,391.02 L225.92,391.06 L226.13,391.09 L226.34,391.12 L226.54,391.16 L226.75,391.19 L226.96,391.22 L227.17,391.25 L227.37,391.28 L227.58,391.3 L227.79,391.33 L228,391.36 L228.2,391.38 L228.41,391.41 L228.62,391.43 L228.82,391.45 L229.03,391.47 L229.24,391.5 L229.45,391.52 L229.65,391.54 L229.86,391.56 L230.07,391.57 L230.28,391.59 L230.48,391.61 L230.69,391.62 L230.9,391.64 L231.11,391.66 L231.31,391.67 L231.52,391.68 L231.73,391.7 L231.93,391.71 L232.14,391.72 L232.35,391.73 L232.56,391.74 L232.76,391.75 L232.97,391.76 L233.18,391.77 L233.39,391.78 L233.59,391.79 L233.8,391.8 L234.01,391.81 L234.22,391.81 L234.42,391.82 L234.63,391.83 L234.84,391.83 L235.05,391.84 L235.25,391.84 L235.46,391.85 L235.67,391.85 L235.87,391.86 L236.08,391.86 L236.29,391.86 L236.5,391.87 L236.7,391.87 L236.91,391.87 L237.12,391.87 L237.33,391.88 L237.53,391.88 L237.74,391.88 L237.95,391.88 L238.16,391.88 L238.36,391.88 L238.57,391.89 L238.78,391.89 L238.98,391.89 L239.19,391.89 L239.4,391.89 L239.61,391.89 L239.81,391.89 L240.02,391.89 L240.23,391.89 L240.44,391.89 L240.64,391.89 L240.85,391.89 L241.06,391.89 L241.27,391.89 L241.47,391.89 L241.68,391.89 L241.89,391.89 L242.1,391.89 L242.3,391.89 L242.51,391.89 L242.72,391.89 L242.92,391.89 L243.13,391.9 L243.34,391.9 L243.55,391.9 L243.75,391.9 L243.96,391.9 L244.17,391.9 L244.38,391.9 L244.58,391.91 L244.79,391.91 L245,391.91 L245.21,391.92 L245.41,391.92 L245.62,391.92 L245.83,391.93 L246.03,391.93 L246.24,391.93 L246.45,391.94 L246.66,391.94 L246.86,391.95 L247.07,391.95 L247.28,391.96 L247.49,391.96 L247.69,391.97 L247.9,391.97 L248.11,391.98 L248.32,391.99 L248.52,391.99 L248.73,392 L248.94,392.01 L249.15,392.01 L249.35,392.02 L249.56,392.03 L249.77,392.03 L249.97,392.04 L250.18,392.05 L250.39,392.05 L250.6,392.06 L250.8,392.07 L251.01,392.08 L251.22,392.09 L251.43,392.09 L251.63,392.1 L251.84,392.11 L252.05,392.12 L252.26,392.13 L252.46,392.14 L252.67,392.15 L252.88,392.15 L253.08,392.16 L253.29,392.17 L253.5,392.18 L253.71,392.19 L253.91,392.2 L254.12,392.21 L254.33,392.22 L254.54,392.23 L254.74,392.24 L254.95,392.25 L255.16,392.26 L255.37,392.26 L255.57,392.27 L255.78,392.28 L255.99,392.29 L256.19,392.3 L256.4,392.31 L256.61,392.32 L256.82,392.33 L257.02,392.34 L257.23,392.35 L257.44,392.36 L257.65,392.37 L257.85,392.38 L258.06,392.39 L258.27,392.4 L258.48,392.41 L258.68,392.42 L258.89,392.43 L259.1,392.43 L259.31,392.44 L259.51,392.45 L259.72,392.46 L259.93,392.47 L260.13,392.48 L260.34,392.49 L260.55,392.5 L260.76,392.51 L260.96,392.51 L261.17,392.52 L261.38,392.53 L261.59,392.54 L261.79,392.55 L262,392.56 L262.21,392.56 L262.42,392.57 L262.62,392.58 L262.83,392.59 L263.04,392.6 L263.24,392.6 L263.45,392.6 L263.66,392.6 L263.87,392.6 L264.07,392.6 L264.28,392.6 L264.49,392.6 L264.7,392.6 L264.9,392.6 L265.11,392.6 L265.32,392.6 L265.53,392.6 L265.73,392.6 L265.94,392.6 L266.15,392.6 L266.36,392.6 L266.56,392.6 L266.77,392.6 L266.98,392.6 L267.18,392.6 L267.39,392.6 L267.6,392.6 L267.81,392.6 L268.01,392.6 L268.22,392.6 L268.43,392.6 L268.64,392.6 L268.84,392.6 L269.05,392.6 L269.26,392.6 L269.47,392.6 L269.67,392.6 L269.88,392.6 L270.09,392.6 L270.29,392.6 L270.5,392.6 L270.71,392.6 L270.92,392.6 L271.12,392.6 L271.33,392.6 L271.54,392.6 L271.75,392.6 L271.95,392.6 L272.16,392.6 L272.37,392.6 L272.58,392.6 L272.78,392.6 L272.99,392.6 L273.2,392.6 L273.4,392.6 L273.61,392.6 L273.82,392.6 L274.03,392.6 L274.23,392.6 L274.44,392.6 L274.65,392.6 L274.86,392.6 L275.06,392.6 L275.27,392.6 L275.48,392.6 L275.69,392.6 L275.89,392.6 L276.1,392.6 L276.31,392.6 L276.52,392.6 L276.72,392.6 L276.93,392.59 L277.14,392.58 L277.34,392.57 L277.55,392.56 L277.76,392.55 L277.97,392.53 L278.17,392.52 L278.38,392.51 L278.59,392.49 L278.8,392.48 L279,392.46 L279.21,392.45 L279.42,392.43 L279.63,392.42 L279.83,392.4 L280.04,392.38 L280.25,392.36 L280.45,392.35 L280.66,392.33 L280.87,392.31" stroke="#0000ff" stroke-dasharray="9.7 3.4 3.4 3.4"/>
<path d="M135.72,391.98 L135.93,392.07 L136.14,392.14 L136.35,392.2 L136.55,392.24 L136.76,392.26 L136.97,392.27 L137.18,392.26 L137.38,392.23 L137.59,392.19 L137.8,392.13 L138.01,392.06 L138.21,391.97 L138.42,391.87 L138.63,391.75 L138.83,391.62 L139.04,391.47 L139.25,391.3 L139.46,391.12 L139.66,390.93 L139.87,390.72 L140.08,390.5 L140.29,390.27 L140.49,390.01 L140.7,389.75 L140.91,389.47 L141.12,389.18 L141.32,388.87 L141.53,388.55 L141.74,388.22 L141.95,387.87 L142.15,387.51 L142.36,387.14 L142.57,386.75 L142.77,386.35 L142.98,385.94 L143.19,385.51 L143.4,385.08 L143.6,384.63 L143.81,384.16 L144.02,383.69 L144.23,383.2 L144.43,382.7 L144.64,382.19 L144.85,381.67 L145.06,381.13 L145.26,380.59 L145.47,380.03 L145.68,379.46 L145.88,378.88 L146.09,378.3 L146.3,377.7 L146.51,377.09 L146.71,376.48 L146.92,375.85 L147.13,375.22 L147.34,374.58 L147.54,373.94 L147.75,373.29 L147.96,372.63 L148.17,371.97 L148.37,371.3 L148.58,370.63 L148.79,369.95 L149,369.27 L149.2,368.59 L149.41,367.9 L149.62,367.21 L149.82,366.52 L150.03,365.83 L150.24,365.13 L150.45,364.44 L150.65,363.75 L150.86,363.05 L151.07,362.36 L151.28,361.66 L151.48,360.97 L151.69,360.28 L151.9,359.6 L152.11,358.91 L152.31,358.23 L152.52,357.55 L152.73,356.88 L152.93,356.21 L153.14,355.55 L153.35,354.89 L153.56,354.24 L153.76,353.59 L153.97,352.95 L154.18,352.32 L154.39,351.69 L154.59,351.08 L154.8,350.47 L155.01,349.87 L155.22,349.27 L155.42,348.69 L155.63,348.11 L155.84,347.54 L156.04,346.98 L156.25,346.43 L156.46,345.88 L156.67,345.35 L156.87,344.82 L157.08,344.3 L157.29,343.78 L157.5,343.28 L157.7,342.78 L157.91,342.29 L158.12,341.81 L158.33,341.34 L158.53,340.87 L158.74,340.42 L158.95,339.97 L159.16,339.52 L159.36,339.09 L159.57,338.67 L159.78,338.25 L159.98,337.84 L160.19,337.44 L160.4,337.04 L160.61,336.66 L160.81,336.28 L161.02,335.91 L161.23,335.55 L161.44,335.2 L161.64,334.85 L161.85,334.51 L162.06,334.18 L162.27,333.86 L162.47,333.55 L162.68,333.24 L162.89,332.94 L163.09,332.65 L163.3,332.37 L163.51,332.09 L163.72,331.83 L163.92,331.57 L164.13,331.32 L164.34,331.08 L164.55,330.84 L164.75,330.61 L164.96,330.4 L165.17,330.18 L165.38,329.98 L165.58,329.79 L165.79,329.6 L166,329.42 L166.21,329.25 L166.41,329.08 L166.62,328.93 L166.83,328.78 L167.03,328.64 L167.24,328.51 L167.45,328.38 L167.66,328.27 L167.86,328.16 L168.07,328.06 L168.28,327.97 L168.49,327.88 L168.69,327.8 L168.9,327.73 L169.11,327.67 L169.32,327.62 L169.52,327.57 L169.73,327.54 L169.94,327.51 L170.14,327.49 L170.35,327.47 L170.56,327.47 L170.77,327.47 L170.97,327.48 L171.18,327.49 L171.39,327.52 L171.6,327.55 L171.8,327.59 L172.01,327.64 L172.22,327.7 L172.43,327.76 L172.63,327.84 L172.84,327.92 L173.05,328 L173.25,328.1 L173.46,328.2 L173.67,328.31 L173.88,328.43 L174.08,328.55 L174.29,328.68 L174.5,328.82 L174.71,328.97 L174.91,329.12 L175.12,329.28 L175.33,329.45 L175.54,329.62 L175.74,329.8 L175.95,329.99 L176.16,330.18 L176.37,330.38 L176.57,330.59 L176.78,330.8 L176.99,331.02 L177.19,331.25 L177.4,331.48 L177.61,331.72 L177.82,331.96 L178.02,332.21 L178.23,332.47 L178.44,332.73 L178.65,333 L178.85,333.27 L179.06,333.55 L179.27,333.84 L179.48,334.13 L179.68,334.42 L179.89,334.73 L180.1,335.03 L180.3,335.35 L180.51,335.66 L180.72,335.99 L180.93,336.31 L181.13,336.65 L181.34,336.99 L181.55,337.33 L181.76,337.68 L181.96,338.03 L182.17,338.39 L182.38,338.75 L182.59,339.12 L182.79,339.49 L183,339.87 L183.21,340.25 L183.42,340.64 L183.62,341.03 L183.83,341.43 L184.04,341.83 L184.24,342.23 L184.45,342.64 L184.66,343.06 L184.87,343.48 L185.07,343.9 L185.28,344.33 L185.49,344.77 L185.7,345.21 L185.9,345.65 L186.11,346.1 L186.32,346.55 L186.53,347 L186.73,347.47 L186.94,347.93 L187.15,348.4 L187.35,348.87 L187.56,349.35 L187.77,349.82 L187.98,350.3 L188.18,350.78 L188.39,351.26 L188.6,351.75 L188.81,352.23 L189.01,352.71 L189.22,353.19 L189.43,353.67 L189.64,354.15 L189.84,354.63 L190.05,355.1 L190.26,355.57 L190.47,356.04 L190.67,356.5 L190.88,356.96 L191.09,357.42 L191.29,357.87 L191.5,358.31 L191.71,358.76 L191.92,359.19 L192.12,359.63 L192.33,360.06 L192.54,360.49 L192.75,360.91 L192.95,361.33 L193.16,361.74 L193.37,362.15 L193.58,362.56 L193.78,362.96 L193.99,363.36 L194.2,363.75 L194.4,364.15 L194.61,364.53 L194.82,364.92 L195.03,365.29 L195.23,365.67 L195.44,366.04 L195.65,366.41 L195.86,366.78 L196.06,367.14 L196.27,367.49 L196.48,367.85 L196.69,368.2 L196.89,368.54 L197.1,368.89 L197.31,369.22 L197.51,369.56 L197.72,369.89 L197.93,370.22 L198.14,370.55 L198.34,370.87 L198.55,371.19 L198.76,371.5 L198.97,371.81 L199.17,372.12 L199.38,372.43 L199.59,372.73 L199.8,373.03 L200,373.32 L200.21,373.61 L200.42,373.9 L200.63,374.19 L200.83,374.47 L201.04,374.75 L201.25,375.02 L201.45,375.3 L201.66,375.57 L201.87,375.83 L202.08,376.1 L202.28,376.36 L202.49,376.61 L202.7,376.87 L202.91,377.12 L203.11,377.37 L203.32,377.61 L203.53,377.86 L203.74,378.1 L203.94,378.33 L204.15,378.57 L204.36,378.8 L204.56,379.03 L204.77,379.26 L204.98,379.48 L205.19,379.7 L205.39,379.92 L205.6,380.13 L205.81,380.34 L206.02,380.55 L206.22,380.76 L206.43,380.97 L206.64,381.17 L206.85,381.37 L207.05,381.56 L207.26,381.76 L207.47,381.95 L207.68,382.14 L207.88,382.33 L208.09,382.51 L208.3,382.69 L208.5,382.87 L208.71,383.05 L208.92,383.23 L209.13,383.4 L209.33,383.57 L209.54,383.74 L209.75,383.91 L209.96,384.07 L210.16,384.23 L210.37,384.39 L210.58,384.55 L210.79,384.7 L210.99,384.85 L211.2,385.01 L211.41,385.15 L211.61,385.3 L211.82,385.44 L212.03,385.59 L212.24,385.73 L212.44,385.86 L212.65,386 L212.86,386.13 L213.07,386.27 L213.27,386.39 L213.48,386.52 L213.69,386.65 L213.9,386.77 L214.1,386.89 L214.31,387.01 L214.52,387.13 L214.72,387.25 L214.93,387.36 L215.14,387.47 L215.35,387.58 L215.55,387.69 L215.76,387.8 L215.97,387.9 L216.18,388.01 L216.38,388.11 L216.59,388.21 L216.8,388.31 L217.01,388.4 L217.21,388.5 L217.42,388.59 L217.63,388.68 L217.84,388.77 L218.04,388.86 L218.25,388.94 L218.46,389.03 L218.66,389.11 L218.87,389.19 L219.08,389.27 L219.29,389.35 L219.49,389.43 L219.7,389.5 L219.91,389.57 L220.12,389.65 L220.32,389.72 L220.53,389.78 L220.74,389.85 L220.95,389.92 L221.15,389.98 L221.36,390.05 L221.57,390.11 L221.77,390.17 L221.98,390.23 L222.19,390.28 L222.4,390.34 L222.6,390.39 L222.81,390.45 L223.02,390.5 L223.23,390.55 L223.43,390.6 L223.64,390.65 L223.85,390.7 L224.06,390.74 L224.26,390.79 L224.47,390.83 L224.68,390.87 L224.89,390.92 L225.09,390.96 L225.3,391 L225.51,391.03 L225.71,391.07 L225.92,391.11 L226.13,391.14 L226.34,391.17 L226.54,391.21 L226.75,391.24 L226.96,391.27 L227.17,391.3 L227.37,391.33 L227.58,391.36 L227.79,391.38 L228,391.41 L228.2,391.43 L228.41,391.46 L228.62,391.48 L228.82,391.5 L229.03,391.52 L229.24,391.54 L229.45,391.56 L229.65,391.58 L229.86,391.6 L230.07,391.62 L230.28,391.64 L230.48,391.65 L230.69,391.67 L230.9,391.68 L231.11,391.7 L231.31,391.71 L231.52,391.72 L231.73,391.73 L231.93,391.74 L232.14,391.75 L232.35,391.76 L232.56,391.77 L232.76,391.78 L232.97,391.79 L233.18,391.8 L233.39,391.81 L233.59,391.81 L233.8,391.82 L234.01,391.82 L234.22,391.83 L234.42,391.83 L234.63,391.84 L234.84,391.84 L235.05,391.85 L235.25,391.85 L235.46,391.85 L235.67,391.85 L235.87,391.86 L236.08,391.86 L236.29,391.86 L236.5,391.86 L236.7,391.86 L236.91,391.86 L237.12,391.86 L237.33,391.86 L237.53,391.86 L237.74,391.86 L237.95,391.86 L238.16,391.86 L238.36,391.86 L238.57,391.86 L238.78,391.86 L238.98,391.86 L239.19,391.86 L239.4,391.85 L239.61,391.85 L239.81,391.85 L240.02,391.85 L240.23,391.85 L240.44,391.85 L240.64,391.85 L240.85,391.84 L241.06,391.84 L241.27,391.84 L241.47,391.84 L241.68,391.84 L241.89,391.84 L242.1,391.84 L242.3,391.84 L242.51,391.83 L242.72,391.83 L242.92,391.83 L243.13,391.83 L243.34,391.83 L243.55,391.83 L243.75,391.83 L243.96,391.83 L244.17,391.84 L244.38,391.84 L244.58,391.84 L244.79,391.84 L245,391.84 L245.21,391.84 L245.41,391.85 L245.62,391.85 L245.83,391.85 L246.03,391.86 L246.24,391.86 L246.45,391.87 L246.66,391.87 L246.86,391.88 L247.07,391.88 L247.28,391.89 L247.49,391.89 L247.69,391.9 L247.9,391.9 L248.11,391.91 L248.32,391.92 L248.52,391.92 L248.73,391.93 L248.94,391.94 L249.15,391.94 L249.35,391.95 L249.56,391.96 L249.77,391.97 L249.97,391.97 L250.18,391.98 L250.39,391.99 L250.6,392 L250.8,392.01 L251.01,392.02 L251.22,392.03 L251.43,392.04 L251.63,392.05 L251.84,392.05 L252.05,392.06 L252.26,392.07 L252.46,392.08 L252.67,392.09 L252.88,392.1 L253.08,392.11 L253.29,392.12 L253.5,392.14 L253.71,392.15 L253.91,392.16 L254.12,392.17 L254.33,392.18 L254.54,392.19 L254.74,392.2 L254.95,392.21 L255.16,392.22 L255.37,392.23 L255.57,392.24 L255.78,392.25 L255.99,392.27 L256.19,392.28 L256.4,392.29 L256.61,392.3 L256.82,392.31 L257.02,392.32 L257.23,392.33 L257.44,392.34 L257.65,392.35 L257.85,392.37 L258.06,392.38 L258.27,392.39 L258.48,392.4 L258.68,392.41 L258.89,392.42 L259.1,392.43 L259.31,392.44 L259.51,392.45 L259.72,392.46 L259.93,392.47 L260.13,392.49 L260.34,392.5 L260.55,392.51 L260.76,392.52 L260.96,392.53 L261.17,392.54 L261.38,392.55 L261.59,392.56 L261.79,392.57 L262,392.58 L262.21,392.59 L262.42,392.59 L262.62,392.6 L262.83,392.6 L263.04,392.6 L263.24,392.6 L263.45,392.6 L263.66,392.6 L263.87,392.6 L264.07,392.6 L264.28,392.6 L264.49,392.6 L264.7,392.6 L264.9,392.6 L265.11,392.6 L265.32,392.6 L265.53,392.6 L265.73,392.6 L265.94,392.6 L266.15,392.6 L266.36,392.6 L266.56,392.6 L266.77,392.6 L266.98,392.6 L267.18,392.6 L267.39,392.6 L267.6,392.6 L267.81,392.6 L268.01,392.6 L268.22,392.6 L268.43,392.6 L268.64,392.6 L268.84,392.6 L269.05,392.6 L269.26,392.6 L269.47,392.6 L269.67,392.6 L269.88,392.6 L270.09,392.6 L270.29,392.6 L270.5,392.6 L270.71,392.6 L270.92,392.6 L271.12,392.6 L271.33,392.6 L271.54,392.6 L271.75,392.6 L271.95,392.6 L272.16,392.6 L272.37,392.6 L272.58,392.6 L272.78,392.6 L272.99,392.6 L273.2,392.6 L273.4,392.6 L273.61,392.6 L273.82,392.6 L274.03,392.6 L274.23,392.6 L274.44,392.6 L274.65,392.6 L274.86,392.6 L275.06,392.6 L275.27,392.6 L275.48,392.6 L275.69,392.6 L275.89,392.6 L276.1,392.6 L276.31,392.6 L276.52,392.6 L276.72,392.6 L276.93,392.59 L277.14,392.58 L277.34,392.56 L277.55,392.55 L277.76,392.53 L277.97,392.52 L278.17,392.5 L278.38,392.48 L278.59,392.46 L278.8,392.45 L279,392.43 L279.21,392.41 L279.42,392.39 L279.63,392.37 L279.83,392.34 L280.04,392.32 L280.25,392.3 L280.45,392.28 L280.66,392.25 L280.87,392.23" stroke="#9400d3" stroke-width="1.3" stroke-dasharray="1.15 0.8"/>
</g>
<path d="M93.84,221.5 H457.03 M93.84,596.1 H457.03" fill="none" stroke="#000" stroke-width="0.7" stroke-linecap="square"/>
<path d="M93.84,221.5 V596.1 M457.03,221.5 V596.1" fill="none" stroke="#000" stroke-width="0.78" stroke-linecap="square"/>
<path d="M135.72,242.8 H280.87 M135.72,392.6 H280.87" fill="none" stroke="#000" stroke-width="0.6" stroke-linecap="square"/>
<path d="M135.72,242.8 V392.6 M280.87,242.8 V392.6" fill="none" stroke="#000" stroke-width="0.75" stroke-linecap="square"/>
<g class="s" font-size="13.2">
<text transform="translate(85.8 226.25) scale(0.98 1)" text-anchor="end" class="s">2</text>
<text transform="translate(85.8 319.9) scale(0.98 1)" text-anchor="end" class="s">1.5</text>
<text transform="translate(85.8 413.55) scale(0.98 1)" text-anchor="end" class="s">1</text>
<text transform="translate(85.8 507.2) scale(0.98 1)" text-anchor="end" class="s">0.5</text>
<text transform="translate(85.8 600.85) scale(0.98 1)" text-anchor="end" class="s">0</text>
<text transform="translate(93.84 611.5) scale(0.98 1)" text-anchor="middle" class="s">0</text>
<text transform="translate(166.48 611.5) scale(0.98 1)" text-anchor="middle" class="s">100</text>
<text transform="translate(239.12 611.5) scale(0.98 1)" text-anchor="middle" class="s">200</text>
<text transform="translate(311.75 611.5) scale(0.98 1)" text-anchor="middle" class="s">300</text>
<text transform="translate(384.39 611.5) scale(0.98 1)" text-anchor="middle" class="s">400</text>
<text transform="translate(457.03 611.5) scale(0.98 1)" text-anchor="middle" class="s">500</text>
</g>
<g class="s" font-size="10.5">
<text transform="translate(128.7 246.55) scale(0.98 1)" text-anchor="end" class="s">1.2</text>
<text transform="translate(128.7 296.48) scale(0.98 1)" text-anchor="end" class="s">0.8</text>
<text transform="translate(128.7 346.42) scale(0.98 1)" text-anchor="end" class="s">0.4</text>
<text transform="translate(128.7 396.35) scale(0.98 1)" text-anchor="end" class="s">0</text>
<text transform="translate(135.72 404.6) scale(0.98 1)" text-anchor="middle" class="s">0</text>
<text transform="translate(177.19 404.6) scale(0.98 1)" text-anchor="middle" class="s">100</text>
<text transform="translate(218.66 404.6) scale(0.98 1)" text-anchor="middle" class="s">200</text>
<text transform="translate(260.13 404.6) scale(0.98 1)" text-anchor="middle" class="s">300</text>
</g>
<text x="238.77" y="626.9" font-size="18.9" stroke="#000" stroke-width="0.2">p<tspan font-size="11.5" dy="6.2">Λ</tspan><tspan dy="-6.2">(MeV)</tspan></text>
<text transform="translate(58.84 410.5) rotate(-90)" font-size="20" text-anchor="middle" stroke="#000" stroke-width="0.3">Γ/Γ<tspan font-size="12.6" dy="5.6">0</tspan></text>
<g fill="none" stroke-width="1.3">
<path d="M306.45,245.8 H335.72" stroke="#000"/>
<path d="M306.45,261.1 H335.72" stroke="#ff0000" stroke-dasharray="9.6 3.31"/>
<path d="M306.45,276.8 H335.72" stroke="#0000ff" stroke-dasharray="9.7 3.4 3.4 3.4"/>
<path d="M306.45,292.3 H335.72" stroke="#9400d3" stroke-dasharray="1.65 0.9"/>
</g>
<g font-size="13.1">
<text x="342.17" y="250.4">ρ(p<tspan font-size="7.2" dy="4.2">Λ</tspan><tspan dy="-4.2">)</tspan><tspan font-size="17" dy="1.4" dx="-1.3">×</tspan><tspan dy="-1.4" dx="-1.3">100</tspan></text>
<text x="342.17" y="265.8">Mesonic</text>
<text x="342.17" y="281">Non<tspan dy="1.1">−</tspan><tspan dy="-1.1">Mesonic (H)</tspan></text>
<text x="342.17" y="296.3">Non<tspan dy="1.1">−</tspan><tspan dy="-1.1">Mesonic (R)</tspan></text>
</g>
<text x="232.25" y="269.7" font-size="14" font-weight="bold"><tspan font-size="9.3" font-weight="normal" dy="-8.3">40</tspan><tspan dy="8.3">Ca</tspan></text>
<g fill="none">
<path d="M220.58,280.1 H240.43" stroke="#ff0000" stroke-width="1.3" stroke-dasharray="9.6 3.31"/>
<path d="M220.58,291 H240.43" stroke="#0000ff" stroke-width="2" stroke-dasharray="9.7 3.4 3.4 10"/>
<path d="M220.58,301.6 H240.43" stroke="#9400d3" stroke-width="1.3" stroke-dasharray="1.65 0.9"/>
</g>
<g font-size="8.6">
<text x="244.71" y="282.9">0.023</text>
<text x="244.71" y="293.7">0.444</text>
<text x="244.71" y="304.2">0.544</text>
</g>
<text x="230.43" y="319.2" font-size="9.8"><tspan font-size="12.6" dy="0.5">×</tspan><tspan dy="-0.5">10</tspan></text>
<path d="M238.33,322.5 L228.84,341.4 M228.84,336.3 L228.84,341.4 L233.04,339" fill="none" stroke="#000" stroke-width="0.75"/>
</g>
<clipPath id="cd"><rect x="129.5" y="221.5" width="501.2" height="375.6"/></clipPath>
<path d="M306.52,595.26 L307.03,594.8 L307.53,594.39 L308.03,594.01 L308.53,593.66 L309.03,593.3 L309.53,592.91 L310.03,592.49 L310.53,592 L311.03,591.42 L311.54,590.75 L312.04,590.01 L312.54,589.21 L313.04,588.36 L313.54,587.48 L314.04,586.54 L314.54,585.57 L315.04,584.62 L315.55,583.7 L316.05,582.81 L316.55,581.91 L317.05,581.02 L317.55,580.13 L318.05,579.24 L318.55,578.36 L319.05,577.49 L319.56,576.62 L320.06,575.77 L320.56,574.92 L321.06,574.09 L321.56,573.26 L322.06,572.44 L322.56,571.63 L323.06,570.82 L323.56,570.02 L324.07,569.25 L324.57,568.49 L325.07,567.74 L325.57,566.98 L326.07,566.23 L326.57,565.49 L327.07,564.74 L327.57,564 L328.08,563.26 L328.58,562.53 L329.08,561.79 L329.58,561.06 L330.08,560.34 L330.58,559.61 L331.08,558.89 L331.58,558.17 L332.09,557.45 L332.59,556.74 L333.09,556.03 L333.59,555.32 L334.09,554.62 L334.59,553.91 L335.09,553.21 L335.59,552.52 L336.09,551.82 L336.6,551.13 L337.1,550.44 L337.6,549.76 L338.1,549.07 L338.6,548.39 L339.1,547.71 L339.6,547.04 L340.1,546.36 L340.61,545.69 L341.11,545.03 L341.61,544.36 L342.11,543.7 L342.61,543.04 L343.11,542.38 L343.61,541.73 L344.11,541.07 L344.62,540.43 L345.12,539.78 L345.62,539.13 L346.12,538.49 L346.62,537.85 L347.12,537.22 L347.62,536.58 L348.12,535.95 L348.62,535.32 L349.13,534.7 L349.63,534.07 L350.13,533.45 L350.63,532.83 L351.13,532.22 L351.63,531.6 L352.13,530.99 L352.63,530.38 L353.14,529.77 L353.64,529.17 L354.14,528.57 L354.64,527.97 L355.14,527.37 L355.64,526.78 L356.14,526.18 L356.64,525.59 L357.15,525.01 L357.65,524.42 L358.15,523.84 L358.65,523.26 L359.15,522.68 L359.65,522.1 L360.15,521.53 L360.65,520.95 L361.15,520.38 L361.66,519.81 L362.16,519.25 L362.66,518.69 L363.16,518.12 L363.66,517.56 L364.16,517.01 L364.66,516.45 L365.16,515.9 L365.67,515.35 L366.17,514.8 L366.67,514.25 L367.17,513.71 L367.67,513.16 L368.17,512.62 L368.67,512.08 L369.17,511.55 L369.68,511.01 L370.18,510.48 L370.68,509.95 L371.18,509.42 L371.68,508.89 L372.18,508.36 L372.68,507.84 L373.18,507.32 L373.68,506.8 L374.19,506.28 L374.69,505.76 L375.19,505.25 L375.69,504.74 L376.19,504.22 L376.69,503.72 L377.19,503.21 L377.69,502.7 L378.2,502.2 L378.7,501.69 L379.2,501.19 L379.7,500.69 L380.2,500.2 L380.7,499.7 L381.2,499.21 L381.7,498.71 L382.21,498.22 L382.71,497.73 L383.21,497.24 L383.71,496.76 L384.21,496.27 L384.71,495.79 L385.21,495.31 L385.71,494.83 L386.21,494.35 L386.72,493.87 L387.22,493.39 L387.72,492.92 L388.22,492.45 L388.72,491.97 L389.22,491.5 L389.72,491.03 L390.22,490.57 L390.73,490.1 L391.23,489.64 L391.73,489.17 L392.23,488.71 L392.73,488.25 L393.23,487.79 L393.73,487.33 L394.23,486.87 L394.74,486.42 L395.24,485.97 L395.74,485.51 L396.24,485.06 L396.74,484.61 L397.24,484.16 L397.74,483.72 L398.24,483.27 L398.74,482.82 L399.25,482.38 L399.75,481.94 L400.25,481.5 L400.75,481.06 L401.25,480.62 L401.75,480.18 L402.25,479.75 L402.75,479.32 L403.26,478.88 L403.76,478.45 L404.26,478.02 L404.76,477.59 L405.26,477.16 L405.76,476.74 L406.26,476.31 L406.76,475.89 L407.27,475.47 L407.77,475.05 L408.27,474.63 L408.77,474.21 L409.27,473.79 L409.77,473.37 L410.27,472.96 L410.77,472.54 L411.27,472.13 L411.78,471.72 L412.28,471.31 L412.78,470.9 L413.28,470.49 L413.78,470.09 L414.28,469.68 L414.78,469.28 L415.28,468.88 L415.79,468.48 L416.29,468.08 L416.79,467.68 L417.29,467.28 L417.79,466.88 L418.29,466.49 L418.79,466.09 L419.29,465.7 L419.8,465.31 L420.3,464.92 L420.8,464.53 L421.3,464.14 L421.8,463.75 L422.3,463.37 L422.8,462.98 L423.3,462.6 L423.8,462.22 L424.31,461.84 L424.81,461.46 L425.31,461.08 L425.81,460.7 L426.31,460.32 L426.81,459.95 L427.31,459.57 L427.81,459.2 L428.32,458.83 L428.82,458.46 L429.32,458.09 L429.82,457.72 L430.32,457.35 L430.82,456.99 L431.32,456.62 L431.82,456.26 L432.33,455.89 L432.83,455.53 L433.33,455.17 L433.83,454.81 L434.33,454.45 L434.83,454.1 L435.33,453.74 L435.83,453.38 L436.33,453.03 L436.84,452.68 L437.34,452.32 L437.84,451.97 L438.34,451.62 L438.84,451.27 L439.34,450.93 L439.84,450.58 L440.34,450.23 L440.85,449.89 L441.35,449.55 L441.85,449.2 L442.35,448.86 L442.85,448.52 L443.35,448.18 L443.85,447.84 L444.35,447.51 L444.86,447.17 L445.36,446.83 L445.86,446.5 L446.36,446.17 L446.86,445.83 L447.36,445.5 L447.86,445.17 L448.36,444.84 L448.86,444.52 L449.37,444.19 L449.87,443.86 L450.37,443.54 L450.87,443.21 L451.37,442.89 L451.87,442.57 L452.37,442.25 L452.87,441.93 L453.38,441.61 L453.88,441.29 L454.38,440.97 L454.88,440.65 L455.38,440.34 L455.88,440.02 L456.38,439.71 L456.88,439.4 L457.39,439.09 L457.89,438.77 L458.39,438.47 L458.89,438.16 L459.39,437.85 L459.89,437.54 L460.39,437.23 L460.89,436.93 L461.39,436.63 L461.9,436.32 L462.4,436.02 L462.9,435.72 L463.4,435.42 L463.9,435.12 L464.4,434.82 L464.9,434.52 L465.4,434.22 L465.91,433.93 L466.41,433.63 L466.91,433.34 L467.41,433.04 L467.91,432.75 L468.41,432.46 L468.91,432.17 L469.41,431.88 L469.92,431.59 L470.42,431.3 L470.92,431.01 L471.42,430.73 L471.92,430.44 L472.42,430.16 L472.92,429.87 L473.42,429.59 L473.92,429.31 L474.43,429.02 L474.93,428.74 L475.43,428.46 L475.93,428.19 L476.43,427.91 L476.93,427.63 L477.43,427.35 L477.93,427.08 L478.44,426.8 L478.94,426.53 L479.44,426.26 L479.94,425.99 L480.44,425.71 L480.94,425.44 L481.44,425.17 L481.94,424.91 L482.45,424.64 L482.95,424.37 L483.45,424.1 L483.95,423.84 L484.45,423.57 L484.95,423.31 L485.45,423.05 L485.95,422.79 L486.45,422.53 L486.96,422.26 L487.46,422.01 L487.96,421.75 L488.46,421.49 L488.96,421.23 L489.46,420.98 L489.96,420.72 L490.46,420.47 L490.97,420.21 L491.47,419.96 L491.97,419.71 L492.47,419.46 L492.97,419.21 L493.47,418.96 L493.97,418.71 L494.47,418.46 L494.98,418.21 L495.48,417.97 L495.98,417.72 L496.48,417.48 L496.98,417.23 L497.48,416.99 L497.98,416.75 L498.48,416.51 L498.98,416.27 L499.49,416.03 L499.99,415.79 L500.49,415.55 L500.99,415.32 L501.49,415.08 L501.99,414.84 L502.49,414.61 L502.99,414.38 L503.5,414.14 L504,413.91 L504.5,413.68 L505,413.45 L505.5,413.22 L506,412.99 L506.5,412.76 L507,412.53 L507.51,412.31 L508.01,412.08 L508.51,411.86 L509.01,411.63 L509.51,411.41 L510.01,411.19 L510.51,410.97 L511.01,410.75 L511.51,410.53 L512.02,410.31 L512.52,410.09 L513.02,409.87 L513.52,409.65 L514.02,409.44 L514.52,409.22 L515.02,409.01 L515.52,408.79 L516.03,408.58 L516.53,408.37 L517.03,408.16 L517.53,407.95 L518.03,407.74 L518.53,407.53 L519.03,407.32 L519.53,407.11 L520.04,406.91 L520.54,406.7 L521.04,406.5 L521.54,406.29 L522.04,406.09 L522.54,405.89 L523.04,405.69 L523.54,405.48 L524.04,405.28 L524.55,405.08 L525.05,404.89 L525.55,404.69 L526.05,404.49 L526.55,404.29 L527.05,404.1 L527.55,403.9 L528.05,403.71 L528.56,403.52 L529.06,403.33 L529.56,403.13 L530.06,402.94 L530.56,402.75 L531.06,402.56 L531.56,402.38 L532.06,402.19 L532.57,402 L533.07,401.81 L533.57,401.63 L534.07,401.44 L534.57,401.26 L535.07,401.08 L535.57,400.9 L536.07,400.71 L536.57,400.53 L537.08,400.35 L537.58,400.17 L538.08,399.99 L538.58,399.82 L539.08,399.64 L539.58,399.46 L540.08,399.29 L540.58,399.11 L541.09,398.94 L541.59,398.77 L542.09,398.59 L542.59,398.42 L543.09,398.25 L543.59,398.08 L544.09,397.91 L544.59,397.74 L545.1,397.58 L545.6,397.41 L546.1,397.24 L546.6,397.08 L547.1,396.91 L547.6,396.75 L548.1,396.58 L548.6,396.42 L549.1,396.26 L549.61,396.1 L550.11,395.94 L550.61,395.78 L551.11,395.62 L551.61,395.46 L552.11,395.3 L552.61,395.15 L553.11,394.99 L553.62,394.84 L554.12,394.68 L554.62,394.53 L555.12,394.38 L555.62,394.22 L556.12,394.07 L556.62,393.92 L557.12,393.77 L557.63,393.62 L558.13,393.47 L558.63,393.33 L559.13,393.18 L559.63,393.03 L560.13,392.89 L560.63,392.74 L561.13,392.6 L561.63,392.45 L562.14,392.31 L562.64,392.17 L563.14,392.03 L563.64,391.89 L564.14,391.75 L564.64,391.61 L565.14,391.47 L565.64,391.33 L566.15,391.2 L566.65,391.06 L567.15,390.93 L567.65,390.79 L568.15,390.66 L568.65,390.52 L569.15,390.39 L569.65,390.26 L570.16,390.13 L570.66,390 L571.16,389.87 L571.66,389.74 L572.16,389.61 L572.66,389.48 L573.16,389.36 L573.66,389.23 L574.16,389.1 L574.67,388.98 L575.17,388.86 L575.67,388.73 L576.17,388.61 L576.67,388.49 L577.17,388.37 L577.67,388.25 L578.17,388.13 L578.68,388.01 L579.18,387.89 L579.68,387.77 L580.18,387.66 L580.68,387.54 L581.18,387.42 L581.68,387.31 L582.18,387.19 L582.69,387.08 L583.19,386.97 L583.69,386.86 L584.19,386.75 L584.69,386.63 L585.19,386.52 L585.69,386.42 L586.19,386.31 L586.69,386.2 L587.2,386.09 L587.7,385.99 L588.2,385.88 L588.7,385.77 L589.2,385.67 L589.7,385.57 L590.2,385.46 L590.7,385.36 L591.21,385.26 L591.71,385.16 L592.21,385.06 L592.71,384.96 L593.21,384.86 L593.71,384.76 L594.21,384.66 L594.71,384.57 L595.22,384.47 L595.72,384.38 L596.22,384.28 L596.72,384.19 L597.22,384.09 L597.72,384 L598.22,383.91 L598.72,383.82 L599.22,383.73 L599.73,383.64 L600.23,383.55 L600.73,383.46 L601.23,383.37 L601.73,383.28 L602.23,383.2 L602.73,383.11 L603.23,383.02 L603.74,382.94 L604.24,382.86 L604.74,382.77 L605.24,382.69 L605.74,382.61 L606.24,382.53 L606.74,382.44 L607.24,382.36 L607.75,382.29 L608.25,382.21 L608.75,382.13 L609.25,382.05 L609.75,381.97 L610.25,381.9 L610.75,381.82 L611.25,381.75 L611.75,381.67 L612.26,381.6 L612.76,381.53 L613.26,381.46 L613.76,381.38 L614.26,381.31 L614.76,381.24 L615.26,381.17 L615.76,381.1 L616.27,381.04 L616.77,380.97 L617.27,380.9 L617.77,380.83 L618.27,380.77 L618.77,380.7 L619.27,380.64 L619.77,380.58 L620.28,380.51 L620.78,380.45 L621.28,380.39 L621.78,380.33 L622.28,380.27 L622.78,380.21 L623.28,380.15 L623.78,380.09 L624.28,380.03 L624.79,379.97 L625.29,379.92 L625.79,379.86 L626.29,379.81 L626.79,379.75 L627.29,379.7 L627.79,379.64 L628.29,379.59 L628.8,379.54 L629.3,379.49 L629.8,379.43 L630.3,379.38 L630.8,379.33 L631.3,379.29" clip-path="url(#cd)" fill="none" stroke="#ff0000" stroke-width="1.5" stroke-dasharray="11.9 4.1" stroke-dashoffset="3.3" opacity="0.999"/>
</svg></body></html>
